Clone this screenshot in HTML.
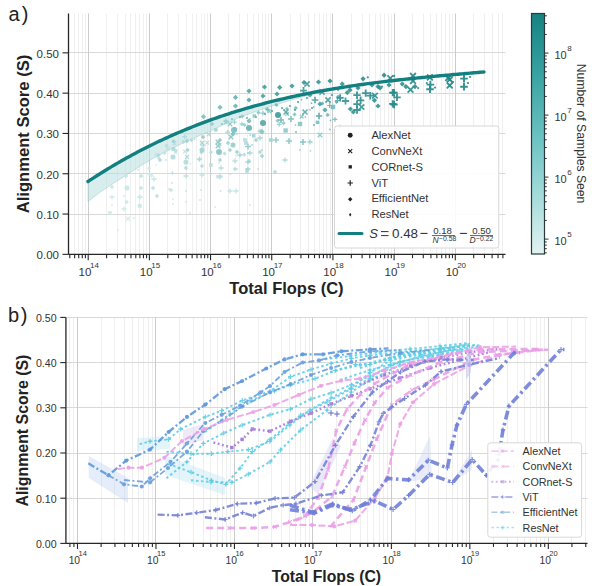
<!DOCTYPE html><html><head><meta charset="utf-8"><style>html,body{margin:0;padding:0;background:#fff;width:592px;height:586px;overflow:hidden;position:relative}</style></head><body><svg width="592" height="586" viewBox="0 0 592 586" style="position:absolute;left:0;top:0">
<rect width="592" height="586" fill="#fff"/>
<line x1="74.50" y1="13.5" x2="74.50" y2="254.35" stroke="#efefef" stroke-width="1"/>
<line x1="78.50" y1="13.5" x2="78.50" y2="254.35" stroke="#efefef" stroke-width="1"/>
<line x1="82.50" y1="13.5" x2="82.50" y2="254.35" stroke="#efefef" stroke-width="1"/>
<line x1="85.50" y1="13.5" x2="85.50" y2="254.35" stroke="#efefef" stroke-width="1"/>
<line x1="106.50" y1="13.5" x2="106.50" y2="254.35" stroke="#efefef" stroke-width="1"/>
<line x1="117.50" y1="13.5" x2="117.50" y2="254.35" stroke="#efefef" stroke-width="1"/>
<line x1="125.50" y1="13.5" x2="125.50" y2="254.35" stroke="#efefef" stroke-width="1"/>
<line x1="130.50" y1="13.5" x2="130.50" y2="254.35" stroke="#efefef" stroke-width="1"/>
<line x1="135.50" y1="13.5" x2="135.50" y2="254.35" stroke="#efefef" stroke-width="1"/>
<line x1="139.50" y1="13.5" x2="139.50" y2="254.35" stroke="#efefef" stroke-width="1"/>
<line x1="143.50" y1="13.5" x2="143.50" y2="254.35" stroke="#efefef" stroke-width="1"/>
<line x1="146.50" y1="13.5" x2="146.50" y2="254.35" stroke="#efefef" stroke-width="1"/>
<line x1="167.50" y1="13.5" x2="167.50" y2="254.35" stroke="#efefef" stroke-width="1"/>
<line x1="178.50" y1="13.5" x2="178.50" y2="254.35" stroke="#efefef" stroke-width="1"/>
<line x1="186.50" y1="13.5" x2="186.50" y2="254.35" stroke="#efefef" stroke-width="1"/>
<line x1="192.50" y1="13.5" x2="192.50" y2="254.35" stroke="#efefef" stroke-width="1"/>
<line x1="196.50" y1="13.5" x2="196.50" y2="254.35" stroke="#efefef" stroke-width="1"/>
<line x1="201.50" y1="13.5" x2="201.50" y2="254.35" stroke="#efefef" stroke-width="1"/>
<line x1="204.50" y1="13.5" x2="204.50" y2="254.35" stroke="#efefef" stroke-width="1"/>
<line x1="207.50" y1="13.5" x2="207.50" y2="254.35" stroke="#efefef" stroke-width="1"/>
<line x1="228.50" y1="13.5" x2="228.50" y2="254.35" stroke="#efefef" stroke-width="1"/>
<line x1="239.50" y1="13.5" x2="239.50" y2="254.35" stroke="#efefef" stroke-width="1"/>
<line x1="247.50" y1="13.5" x2="247.50" y2="254.35" stroke="#efefef" stroke-width="1"/>
<line x1="253.50" y1="13.5" x2="253.50" y2="254.35" stroke="#efefef" stroke-width="1"/>
<line x1="258.50" y1="13.5" x2="258.50" y2="254.35" stroke="#efefef" stroke-width="1"/>
<line x1="262.50" y1="13.5" x2="262.50" y2="254.35" stroke="#efefef" stroke-width="1"/>
<line x1="265.50" y1="13.5" x2="265.50" y2="254.35" stroke="#efefef" stroke-width="1"/>
<line x1="268.50" y1="13.5" x2="268.50" y2="254.35" stroke="#efefef" stroke-width="1"/>
<line x1="290.50" y1="13.5" x2="290.50" y2="254.35" stroke="#efefef" stroke-width="1"/>
<line x1="300.50" y1="13.5" x2="300.50" y2="254.35" stroke="#efefef" stroke-width="1"/>
<line x1="308.50" y1="13.5" x2="308.50" y2="254.35" stroke="#efefef" stroke-width="1"/>
<line x1="314.50" y1="13.5" x2="314.50" y2="254.35" stroke="#efefef" stroke-width="1"/>
<line x1="319.50" y1="13.5" x2="319.50" y2="254.35" stroke="#efefef" stroke-width="1"/>
<line x1="323.50" y1="13.5" x2="323.50" y2="254.35" stroke="#efefef" stroke-width="1"/>
<line x1="326.50" y1="13.5" x2="326.50" y2="254.35" stroke="#efefef" stroke-width="1"/>
<line x1="330.50" y1="13.5" x2="330.50" y2="254.35" stroke="#efefef" stroke-width="1"/>
<line x1="351.50" y1="13.5" x2="351.50" y2="254.35" stroke="#efefef" stroke-width="1"/>
<line x1="362.50" y1="13.5" x2="362.50" y2="254.35" stroke="#efefef" stroke-width="1"/>
<line x1="369.50" y1="13.5" x2="369.50" y2="254.35" stroke="#efefef" stroke-width="1"/>
<line x1="375.50" y1="13.5" x2="375.50" y2="254.35" stroke="#efefef" stroke-width="1"/>
<line x1="380.50" y1="13.5" x2="380.50" y2="254.35" stroke="#efefef" stroke-width="1"/>
<line x1="384.50" y1="13.5" x2="384.50" y2="254.35" stroke="#efefef" stroke-width="1"/>
<line x1="388.50" y1="13.5" x2="388.50" y2="254.35" stroke="#efefef" stroke-width="1"/>
<line x1="391.50" y1="13.5" x2="391.50" y2="254.35" stroke="#efefef" stroke-width="1"/>
<line x1="412.50" y1="13.5" x2="412.50" y2="254.35" stroke="#efefef" stroke-width="1"/>
<line x1="423.50" y1="13.5" x2="423.50" y2="254.35" stroke="#efefef" stroke-width="1"/>
<line x1="430.50" y1="13.5" x2="430.50" y2="254.35" stroke="#efefef" stroke-width="1"/>
<line x1="436.50" y1="13.5" x2="436.50" y2="254.35" stroke="#efefef" stroke-width="1"/>
<line x1="441.50" y1="13.5" x2="441.50" y2="254.35" stroke="#efefef" stroke-width="1"/>
<line x1="445.50" y1="13.5" x2="445.50" y2="254.35" stroke="#efefef" stroke-width="1"/>
<line x1="449.50" y1="13.5" x2="449.50" y2="254.35" stroke="#efefef" stroke-width="1"/>
<line x1="452.50" y1="13.5" x2="452.50" y2="254.35" stroke="#efefef" stroke-width="1"/>
<line x1="473.50" y1="13.5" x2="473.50" y2="254.35" stroke="#efefef" stroke-width="1"/>
<line x1="484.50" y1="13.5" x2="484.50" y2="254.35" stroke="#efefef" stroke-width="1"/>
<line x1="492.50" y1="13.5" x2="492.50" y2="254.35" stroke="#efefef" stroke-width="1"/>
<line x1="498.50" y1="13.5" x2="498.50" y2="254.35" stroke="#efefef" stroke-width="1"/>
<line x1="502.50" y1="13.5" x2="502.50" y2="254.35" stroke="#efefef" stroke-width="1"/>
<line x1="68.5" y1="214.50" x2="505.5" y2="214.50" stroke="#d9d9d9" stroke-width="1"/>
<line x1="68.5" y1="173.50" x2="505.5" y2="173.50" stroke="#d9d9d9" stroke-width="1"/>
<line x1="68.5" y1="133.50" x2="505.5" y2="133.50" stroke="#d9d9d9" stroke-width="1"/>
<line x1="68.5" y1="93.50" x2="505.5" y2="93.50" stroke="#d9d9d9" stroke-width="1"/>
<line x1="68.5" y1="52.50" x2="505.5" y2="52.50" stroke="#d9d9d9" stroke-width="1"/>
<line x1="88.50" y1="13.5" x2="88.50" y2="254.35" stroke="#cbcbcb" stroke-width="1"/>
<line x1="149.50" y1="13.5" x2="149.50" y2="254.35" stroke="#cbcbcb" stroke-width="1"/>
<line x1="210.50" y1="13.5" x2="210.50" y2="254.35" stroke="#cbcbcb" stroke-width="1"/>
<line x1="271.50" y1="13.5" x2="271.50" y2="254.35" stroke="#cbcbcb" stroke-width="1"/>
<line x1="332.50" y1="13.5" x2="332.50" y2="254.35" stroke="#cbcbcb" stroke-width="1"/>
<line x1="394.50" y1="13.5" x2="394.50" y2="254.35" stroke="#cbcbcb" stroke-width="1"/>
<line x1="455.50" y1="13.5" x2="455.50" y2="254.35" stroke="#cbcbcb" stroke-width="1"/>
<polygon points="88.00,181.51 90.00,180.19 92.00,178.88 94.00,177.58 96.00,176.30 98.00,175.02 100.00,173.76 102.00,172.50 104.00,171.26 106.00,170.03 108.00,168.82 110.00,167.61 112.00,166.41 114.00,165.23 116.00,164.05 118.00,162.89 120.00,161.74 122.00,160.60 124.00,159.47 126.00,158.35 128.00,157.24 130.00,156.14 132.00,155.05 134.00,153.97 136.00,152.90 138.00,151.85 140.00,150.80 142.00,149.76 144.00,148.74 146.00,147.72 148.00,146.72 150.00,145.72 152.00,144.73 154.00,143.76 156.00,142.79 158.00,141.83 160.00,140.89 162.00,139.95 164.00,139.02 166.00,138.10 168.00,137.19 170.00,136.29 172.00,135.40 174.00,134.52 176.00,133.65 178.00,132.79 180.00,131.94 182.00,131.09 184.00,130.26 186.00,129.43 188.00,128.61 190.00,127.80 192.00,127.00 194.00,126.21 196.00,125.43 198.00,124.65 200.00,123.89 202.00,123.13 204.00,122.38 206.00,121.64 208.00,120.91 210.00,120.18 212.00,119.47 214.00,118.76 216.00,118.06 218.00,117.36 220.00,116.68 222.00,116.00 224.00,115.33 226.00,114.67 228.00,114.02 230.00,113.37 232.00,112.74 234.00,112.10 236.00,111.48 238.00,110.86 240.00,110.26 242.00,109.65 244.00,109.06 246.00,108.47 248.00,107.89 250.00,107.32 252.00,106.75 254.00,106.19 256.00,105.64 258.00,105.09 260.00,104.55 262.00,104.02 264.00,103.49 266.00,102.97 268.00,102.46 270.00,101.95 272.00,101.45 274.00,100.96 276.00,100.47 278.00,99.99 280.00,99.51 282.00,99.04 284.00,98.58 286.00,98.12 288.00,97.67 290.00,97.22 292.00,96.78 294.00,96.35 296.00,95.92 298.00,95.49 300.00,95.07 302.00,94.66 304.00,94.25 306.00,93.85 308.00,93.45 310.00,93.06 312.00,92.68 314.00,92.29 316.00,91.92 318.00,91.54 320.00,91.18 322.00,90.82 324.00,90.46 326.00,90.11 328.00,89.76 330.00,89.41 332.00,89.07 334.00,88.74 336.00,88.41 338.00,88.08 340.00,87.76 340.00,87.76 338.00,88.21 336.00,88.66 334.00,89.11 332.00,89.57 330.00,90.04 328.00,90.51 326.00,90.98 324.00,91.46 322.00,91.94 320.00,92.43 318.00,92.92 316.00,93.42 314.00,93.92 312.00,94.43 310.00,94.94 308.00,95.45 306.00,95.98 304.00,96.50 302.00,97.04 300.00,97.57 298.00,98.14 296.00,98.72 294.00,99.30 292.00,99.88 290.00,100.47 288.00,101.07 286.00,101.67 284.00,102.28 282.00,102.89 280.00,103.51 278.00,104.14 276.00,104.77 274.00,105.41 272.00,106.05 270.00,106.70 268.00,107.36 266.00,108.02 264.00,108.69 262.00,109.37 260.00,110.05 258.00,110.74 256.00,111.44 254.00,112.14 252.00,112.85 250.00,113.57 248.00,114.29 246.00,115.02 244.00,115.76 242.00,116.50 240.00,117.26 238.00,118.13 236.00,119.01 234.00,119.90 232.00,120.80 230.00,121.71 228.00,122.62 226.00,123.54 224.00,124.47 222.00,125.40 220.00,126.35 218.00,127.30 216.00,128.26 214.00,129.22 212.00,130.20 210.00,131.18 208.00,132.01 206.00,132.84 204.00,133.68 202.00,134.53 200.00,135.39 198.00,136.25 196.00,137.13 194.00,138.01 192.00,138.90 190.00,139.80 188.00,140.71 186.00,141.63 184.00,142.56 182.00,143.49 180.00,144.44 178.00,145.42 176.00,146.42 174.00,147.42 172.00,148.44 170.00,149.46 168.00,150.49 166.00,151.54 164.00,152.59 162.00,153.65 160.00,154.72 158.00,155.80 156.00,156.89 154.00,157.99 152.00,159.10 150.00,160.22 148.00,161.42 146.00,162.62 144.00,163.84 142.00,165.06 140.00,166.30 138.00,167.55 136.00,168.80 134.00,170.07 132.00,171.35 130.00,172.64 128.00,173.94 126.00,175.25 124.00,176.57 122.00,177.90 120.00,179.24 118.00,180.49 116.00,181.75 114.00,183.03 112.00,184.31 110.00,185.61 108.00,186.92 106.00,188.23 104.00,189.56 102.00,190.90 100.00,192.26 98.00,193.77 96.00,195.30 94.00,196.83 92.00,198.38 90.00,199.94 88.00,201.51" fill="#b8dede" fill-opacity="0.55" stroke="#8cc4c4" stroke-opacity="0.6" stroke-width="0.7"/>
<g>
<path d="M149.1,166.3L151.2,168.3L149.1,170.4L147.0,168.3Z" fill="#cde8e8" fill-opacity="0.85"/>
<path d="M151.6,173.6L153.7,175.6L151.6,177.7L149.5,175.6Z" fill="#cde8e8" fill-opacity="0.85"/>
<path d="M149.3,172.1L151.4,174.2L149.3,176.3L147.2,174.2Z" fill="#cde8e8" fill-opacity="0.85"/>
<path d="M154.0,154.9H158.8M156.4,152.5V157.3" stroke="#c0e1e1" stroke-width="1.20" stroke-opacity="0.85"/>
<circle cx="156.3" cy="165.1" r="0.88" fill="#cbe7e7" fill-opacity="0.85"/>
<path d="M158.8,156.0L160.9,158.1L158.8,160.2L156.7,158.1Z" fill="#c4e3e3" fill-opacity="0.85"/>
<path d="M165.8,146.6L169.5,150.3M165.8,150.3L169.5,146.6" stroke="#b9dede" stroke-width="1.12" stroke-opacity="0.85"/>
<path d="M166.5,143.5L168.6,145.6L166.5,147.6L164.4,145.6Z" fill="#b6dcdc" fill-opacity="0.85"/>
<path d="M164.7,151.0L166.8,153.1L164.7,155.2L162.7,153.1Z" fill="#bee0e0" fill-opacity="0.85"/>
<path d="M173.9,150.2L177.5,153.8M173.9,153.8L177.5,150.2" stroke="#bcdfdf" stroke-width="1.12" stroke-opacity="0.85"/>
<path d="M172.7,141.6L176.4,145.3M172.7,145.3L176.4,141.6" stroke="#b3dbdb" stroke-width="1.12" stroke-opacity="0.85"/>
<path d="M175.9,148.5L177.9,150.6L175.9,152.7L173.8,150.6Z" fill="#badede" fill-opacity="0.85"/>
<path d="M183.4,139.7L185.4,141.8L183.4,143.9L181.3,141.8Z" fill="#b0d9d9" fill-opacity="0.85"/>
<path d="M182.2,136.6H187.0M184.6,134.2V139.0" stroke="#aad7d7" stroke-width="1.20" stroke-opacity="0.85"/>
<path d="M183.1,149.6L186.7,153.3M183.1,153.3L186.7,149.6" stroke="#badede" stroke-width="1.12" stroke-opacity="0.85"/>
<circle cx="194.6" cy="139.2" r="0.88" fill="#acd7d7" fill-opacity="0.85"/>
<path d="M191.5,138.1L193.6,140.2L191.5,142.3L189.4,140.2Z" fill="#add8d8" fill-opacity="0.85"/>
<circle cx="190.4" cy="163.6" r="0.88" fill="#c6e4e4" fill-opacity="0.85"/>
<circle cx="201.1" cy="152.7" r="0.88" fill="#b9dede" fill-opacity="0.85"/>
<path d="M201.5,150.6L203.6,152.6L201.5,154.7L199.5,152.6Z" fill="#b9dede" fill-opacity="0.85"/>
<path d="M199.1,157.6L201.2,159.7L199.1,161.8L197.0,159.7Z" fill="#c1e2e2" fill-opacity="0.85"/>
<path d="M200.8,145.7H205.6M203.2,143.3V148.1" stroke="#b2dada" stroke-width="1.20" stroke-opacity="0.85"/>
<path d="M205.4,140.9L209.0,144.6M205.4,144.6L209.0,140.9" stroke="#add8d8" stroke-width="1.12" stroke-opacity="0.85"/>
<circle cx="210.9" cy="156.9" r="0.88" fill="#bcdfdf" fill-opacity="0.85"/>
<path d="M206.7,132.5L210.4,136.2M206.7,136.2L210.4,132.5" stroke="#a4d4d4" stroke-width="1.12" stroke-opacity="0.85"/>
<path d="M211.0,150.1L213.1,152.2L211.0,154.3L208.9,152.2Z" fill="#b7dddd" fill-opacity="0.85"/>
<rect x="217.9" y="143.1" width="3.5" height="3.5" fill="#aed8d8" fill-opacity="0.85"/>
<rect x="214.1" y="128.1" width="3.5" height="3.5" fill="#9ed0d0" fill-opacity="0.85"/>
<circle cx="219.0" cy="163.2" r="0.88" fill="#c1e2e2" fill-opacity="0.85"/>
<rect x="216.0" y="175.0" width="3.5" height="3.5" fill="#cde8e8" fill-opacity="0.85"/>
<path d="M223.5,120.8H228.3M225.9,118.4V123.2" stroke="#92cbcb" stroke-width="1.20" stroke-opacity="0.85"/>
<path d="M223.9,120.8L227.6,124.4M223.9,124.4L227.6,120.8" stroke="#94cccc" stroke-width="1.12" stroke-opacity="0.85"/>
<path d="M224.6,151.5L226.7,153.6L224.6,155.7L222.5,153.6Z" fill="#b5dcdc" fill-opacity="0.85"/>
<path d="M225.3,132.1H230.1M227.7,129.7V134.5" stroke="#9ed1d1" stroke-width="1.20" stroke-opacity="0.85"/>
<path d="M232.1,122.0H236.9M234.5,119.6V124.4" stroke="#91caca" stroke-width="1.20" stroke-opacity="0.85"/>
<circle cx="234.5" cy="122.3" r="0.88" fill="#92cbcb" fill-opacity="0.85"/>
<circle cx="236.9" cy="134.3" r="0.88" fill="#9fd1d1" fill-opacity="0.85"/>
<circle cx="236.0" cy="155.6" r="0.88" fill="#b6dcdc" fill-opacity="0.85"/>
<path d="M244.4,122.8L246.5,124.9L244.4,126.9L242.3,124.9Z" fill="#92cbcb" fill-opacity="0.85"/>
<path d="M241.9,122.0L244.0,124.1L241.9,126.2L239.8,124.1Z" fill="#92cbcb" fill-opacity="0.85"/>
<path d="M244.3,152.5L246.4,154.6L244.3,156.7L242.2,154.6Z" fill="#b3dbdb" fill-opacity="0.85"/>
<path d="M242.3,114.3L244.4,116.3L242.3,118.4L240.2,116.3Z" fill="#89c6c6" fill-opacity="0.85"/>
<circle cx="250.2" cy="134.9" r="0.88" fill="#9bcfcf" fill-opacity="0.85"/>
<rect x="252.5" y="114.3" width="3.5" height="3.5" fill="#87c5c5" fill-opacity="0.85"/>
<rect x="252.0" y="134.0" width="3.5" height="3.5" fill="#9cd0d0" fill-opacity="0.85"/>
<circle cx="249.8" cy="118.8" r="0.88" fill="#8ac7c7" fill-opacity="0.85"/>
<path d="M259.5,131.1H264.3M261.9,128.7V133.5" stroke="#95cccc" stroke-width="1.20" stroke-opacity="0.85"/>
<path d="M257.6,131.2H262.4M260.0,128.8V133.6" stroke="#95cccc" stroke-width="1.20" stroke-opacity="0.85"/>
<path d="M258.5,110.6L260.6,112.7L258.5,114.8L256.4,112.7Z" fill="#81c2c2" fill-opacity="0.85"/>
<path d="M260.5,113.2H265.3M262.9,110.8V115.6" stroke="#81c3c3" stroke-width="1.20" stroke-opacity="0.85"/>
<path d="M267.3,107.3L269.4,109.4L267.3,111.5L265.2,109.4Z" fill="#7bbfbf" fill-opacity="0.85"/>
<path d="M267.5,109.4L271.2,113.0M267.5,113.0L271.2,109.4" stroke="#7dc0c0" stroke-width="1.12" stroke-opacity="0.85"/>
<circle cx="267.0" cy="108.9" r="0.88" fill="#7abfbf" fill-opacity="0.85"/>
<path d="M265.1,109.3H269.9M267.5,106.9V111.7" stroke="#7bbfbf" stroke-width="1.20" stroke-opacity="0.85"/>
<circle cx="275.7" cy="104.3" r="0.88" fill="#72b9b9" fill-opacity="0.85"/>
<path d="M277.4,118.7L279.5,120.7L277.4,122.8L275.3,120.7Z" fill="#84c4c4" fill-opacity="0.85"/>
<path d="M276.8,124.3H281.6M279.2,121.9V126.7" stroke="#88c6c6" stroke-width="1.20" stroke-opacity="0.85"/>
<path d="M276.6,102.9L278.6,105.0L276.6,107.1L274.5,105.0Z" fill="#72baba" fill-opacity="0.85"/>
<circle cx="284.0" cy="109.9" r="0.88" fill="#75bcbc" fill-opacity="0.85"/>
<path d="M285.1,112.1L288.8,115.8M285.1,115.8L288.8,112.1" stroke="#7abfbf" stroke-width="1.12" stroke-opacity="0.85"/>
<path d="M283.6,121.1L285.7,123.1L283.6,125.2L281.5,123.1Z" fill="#84c4c4" fill-opacity="0.85"/>
<path d="M287.0,106.7L289.0,108.8L287.0,110.9L284.9,108.8Z" fill="#74bbbb" fill-opacity="0.85"/>
<path d="M295.8,105.8L297.9,107.9L295.8,110.0L293.7,107.9Z" fill="#70b8b8" fill-opacity="0.85"/>
<circle cx="295.5" cy="124.9" r="0.88" fill="#83c4c4" fill-opacity="0.85"/>
<path d="M294.6,112.3L296.7,114.4L294.6,116.5L292.5,114.4Z" fill="#78bdbd" fill-opacity="0.85"/>
<circle cx="294.7" cy="109.4" r="0.88" fill="#72b9b9" fill-opacity="0.85"/>
<circle cx="303.0" cy="114.7" r="0.88" fill="#75bbbb" fill-opacity="0.85"/>
<circle cx="305.4" cy="117.2" r="0.88" fill="#78bdbd" fill-opacity="0.85"/>
<circle cx="301.5" cy="99.7" r="0.88" fill="#63b0b0" fill-opacity="0.85"/>
<path d="M299.8,114.8L303.5,118.5M299.8,118.5L303.5,114.8" stroke="#77bdbd" stroke-width="1.12" stroke-opacity="0.85"/>
<circle cx="311.5" cy="103.2" r="0.88" fill="#64b0b0" fill-opacity="0.85"/>
<circle cx="310.4" cy="150.8" r="0.88" fill="#9acece" fill-opacity="0.85"/>
<circle cx="310.0" cy="109.8" r="0.88" fill="#6cb6b6" fill-opacity="0.85"/>
<circle cx="313.7" cy="106.9" r="0.88" fill="#68b3b3" fill-opacity="0.85"/>
<path d="M322.3,101.5L324.4,103.6L322.3,105.6L320.2,103.6Z" fill="#60afaf" fill-opacity="0.85"/>
<circle cx="319.9" cy="104.7" r="0.88" fill="#62afaf" fill-opacity="0.85"/>
<circle cx="318.5" cy="122.7" r="0.88" fill="#78bdbd" fill-opacity="0.85"/>
<rect x="315.7" y="120.6" width="3.5" height="3.5" fill="#77bdbd" fill-opacity="0.85"/>
<path d="M327.7,112.8L329.8,114.9L327.7,117.0L325.6,114.9Z" fill="#6bb5b5" fill-opacity="0.85"/>
<circle cx="330.5" cy="120.4" r="0.88" fill="#71b9b9" fill-opacity="0.85"/>
<path d="M327.2,105.5H332.0M329.6,103.1V107.9" stroke="#5faeae" stroke-width="1.20" stroke-opacity="0.85"/>
<circle cx="329.9" cy="129.5" r="0.88" fill="#7cc0c0" fill-opacity="0.85"/>
<path d="M332.5,119.4H337.3M334.9,117.0V121.8" stroke="#6cb6b6" stroke-width="1.20" stroke-opacity="0.85"/>
<path d="M336.5,99.7L338.6,101.8L336.5,103.9L334.4,101.8Z" fill="#57a9a9" fill-opacity="0.85"/>
<path d="M338.1,94.7L340.2,96.8L338.1,98.8L336.0,96.8Z" fill="#51a5a5" fill-opacity="0.85"/>
<path d="M335.1,100.5H339.9M337.5,98.1V102.9" stroke="#55a8a8" stroke-width="1.20" stroke-opacity="0.85"/>
<path d="M112.0,184.8L114.2,187.0L112.0,189.2L109.8,187.0Z" fill="#cbe7e7" fill-opacity="0.9"/>
<path d="M109.5,197.0H114.5M112.0,194.4V199.6" stroke="#cfe8e8" stroke-width="1.27" stroke-opacity="0.9"/>
<circle cx="112.0" cy="205.0" r="0.94" fill="#cfe8e8" fill-opacity="0.9"/>
<rect x="108.1" y="211.1" width="3.7" height="3.7" fill="#d2eaea" fill-opacity="0.9"/>
<path d="M126.0,173.8L128.2,176.0L126.0,178.2L123.8,176.0Z" fill="#c4e3e3" fill-opacity="0.9"/>
<circle cx="127.0" cy="188.0" r="2.55" fill="#c8e5e5" fill-opacity="0.9"/>
<circle cx="124.0" cy="196.0" r="0.94" fill="#cbe7e7" fill-opacity="0.9"/>
<path d="M126.6,199.8L128.8,202.0L126.6,204.2L124.4,202.0Z" fill="#cbe7e7" fill-opacity="0.9"/>
<path d="M126.0,216.6L130.0,220.6M126.0,220.6L130.0,216.6" stroke="#cde8e8" stroke-width="1.19" stroke-opacity="0.9"/>
<path d="M121.5,209.0H126.5M124.0,206.4V211.6" stroke="#cfe8e8" stroke-width="1.27" stroke-opacity="0.9"/>
<path d="M141.0,173.8L143.2,176.0L141.0,178.2L138.8,176.0Z" fill="#c0e1e1" fill-opacity="0.9"/>
<path d="M141.0,185.8L143.2,188.0L141.0,190.2L138.8,188.0Z" fill="#c4e3e3" fill-opacity="0.9"/>
<path d="M137.4,197.0H142.6M140.0,194.4V199.6" stroke="#c4e3e3" stroke-width="1.27" stroke-opacity="0.9"/>
<circle cx="139.7" cy="205.7" r="2.21" fill="#c8e5e5" fill-opacity="0.9"/>
<circle cx="138.0" cy="170.0" r="0.94" fill="#cbe7e7" fill-opacity="0.9"/>
<path d="M158.4,153.1L160.6,155.3L158.4,157.5L156.2,155.3Z" fill="#aed9d9" fill-opacity="0.9"/>
<path d="M160.0,157.8L162.2,160.0L160.0,162.2L157.8,160.0Z" fill="#b2dada" fill-opacity="0.9"/>
<circle cx="166.0" cy="160.0" r="0.94" fill="#c0e1e1" fill-opacity="0.9"/>
<path d="M172.5,170.8L173.8,173.0L172.5,175.2L171.2,173.0Z" fill="#bbdfdf" fill-opacity="0.9"/>
<path d="M151.4,179.0H156.6M154.0,176.4V181.6" stroke="#c4e3e3" stroke-width="1.27" stroke-opacity="0.9"/>
<path d="M153.0,185.8L155.2,188.0L153.0,190.2L150.8,188.0Z" fill="#bbdfdf" fill-opacity="0.9"/>
<path d="M157.0,193.8L159.2,196.0L157.0,198.2L154.8,196.0Z" fill="#bde0e0" fill-opacity="0.9"/>
<circle cx="169.0" cy="189.0" r="0.94" fill="#c9e6e6" fill-opacity="0.9"/>
<circle cx="173.0" cy="199.0" r="0.94" fill="#cbe7e7" fill-opacity="0.9"/>
<circle cx="173.0" cy="204.0" r="0.94" fill="#cbe7e7" fill-opacity="0.9"/>
<path d="M171.0,187.8L173.2,190.0L171.0,192.2L168.8,190.0Z" fill="#c4e3e3" fill-opacity="0.9"/>
<circle cx="134.0" cy="218.0" r="0.94" fill="#cfe8e8" fill-opacity="0.9"/>
<circle cx="118.0" cy="230.0" r="0.94" fill="#d1e9e9" fill-opacity="0.9"/>
<path d="M173.5,139.2L175.7,141.4L173.5,143.6L171.3,141.4Z" fill="#9cd0d0" fill-opacity="0.9"/>
<rect x="171.6" y="147.1" width="3.7" height="3.7" fill="#a9d6d6" fill-opacity="0.9"/>
<circle cx="173.0" cy="157.0" r="2.55" fill="#b2dada" fill-opacity="0.9"/>
<circle cx="172.0" cy="183.0" r="0.94" fill="#c4e3e3" fill-opacity="0.9"/>
<path d="M187.0,138.8L189.2,141.0L187.0,143.2L184.8,141.0Z" fill="#9cd0d0" fill-opacity="0.9"/>
<path d="M187.6,147.8L189.8,150.0L187.6,152.2L185.4,150.0Z" fill="#a4d3d3" fill-opacity="0.9"/>
<path d="M185.0,155.0L189.0,159.0M185.0,159.0L189.0,155.0" stroke="#a9d6d6" stroke-width="1.19" stroke-opacity="0.9"/>
<circle cx="186.0" cy="162.0" r="2.55" fill="#b2dada" fill-opacity="0.9"/>
<path d="M186.0,165.8L188.2,168.0L186.0,170.2L183.8,168.0Z" fill="#b2dada" fill-opacity="0.9"/>
<path d="M183.4,176.0H188.6M186.0,173.4V178.6" stroke="#b9dede" stroke-width="1.27" stroke-opacity="0.9"/>
<circle cx="186.0" cy="191.0" r="0.94" fill="#c4e3e3" fill-opacity="0.9"/>
<circle cx="186.0" cy="202.0" r="0.94" fill="#c8e5e5" fill-opacity="0.9"/>
<path d="M203.0,134.8L205.2,137.0L203.0,139.2L200.8,137.0Z" fill="#95cccc" fill-opacity="0.9"/>
<path d="M200.0,141.0L204.0,145.0M200.0,145.0L204.0,141.0" stroke="#9cd0d0" stroke-width="1.19" stroke-opacity="0.9"/>
<circle cx="202.0" cy="150.0" r="2.55" fill="#a0d2d2" fill-opacity="0.9"/>
<path d="M197.0,159.0H202.2M199.6,156.4V161.6" stroke="#aed9d9" stroke-width="1.27" stroke-opacity="0.9"/>
<circle cx="201.0" cy="190.0" r="0.94" fill="#c4e3e3" fill-opacity="0.9"/>
<circle cx="200.0" cy="200.0" r="0.94" fill="#c8e5e5" fill-opacity="0.9"/>
<path d="M202.0,163.8L204.2,166.0L202.0,168.2L199.8,166.0Z" fill="#b9dede" fill-opacity="0.9"/>
<path d="M199.4,175.0H204.6M202.0,172.4V177.6" stroke="#bfe1e1" stroke-width="1.27" stroke-opacity="0.9"/>
<rect x="209.1" y="163.1" width="3.7" height="3.7" fill="#bde0e0" fill-opacity="0.9"/>
<circle cx="211.0" cy="174.0" r="0.94" fill="#c0e1e1" fill-opacity="0.9"/>
<path d="M220.0,137.8L222.2,140.0L220.0,142.2L217.8,140.0Z" fill="#97cdcd" fill-opacity="0.9"/>
<path d="M219.0,149.8L221.2,152.0L219.0,154.2L216.8,152.0Z" fill="#a0d2d2" fill-opacity="0.9"/>
<path d="M220.0,157.8L222.2,160.0L220.0,162.2L217.8,160.0Z" fill="#a9d6d6" fill-opacity="0.9"/>
<path d="M217.4,176.0H222.6M220.0,173.4V178.6" stroke="#bbdfdf" stroke-width="1.27" stroke-opacity="0.9"/>
<circle cx="220.5" cy="191.0" r="0.94" fill="#c4e3e3" fill-opacity="0.9"/>
<path d="M230.0,147.8L232.2,150.0L230.0,152.2L227.8,150.0Z" fill="#a4d3d3" fill-opacity="0.9"/>
<path d="M237.0,149.8L239.2,152.0L237.0,154.2L234.8,152.0Z" fill="#a0d2d2" fill-opacity="0.9"/>
<path d="M235.0,166.8L237.2,169.0L235.0,171.2L232.8,169.0Z" fill="#b2dada" fill-opacity="0.9"/>
<path d="M227.4,191.0H232.6M230.0,188.4V193.6" stroke="#bfe1e1" stroke-width="1.27" stroke-opacity="0.9"/>
<circle cx="230.0" cy="174.0" r="0.94" fill="#bbdfdf" fill-opacity="0.9"/>
<path d="M249.0,158.8L251.2,161.0L249.0,163.2L246.8,161.0Z" fill="#aed9d9" fill-opacity="0.9"/>
<path d="M247.4,153.0H252.6M250.0,150.4V155.6" stroke="#a9d6d6" stroke-width="1.27" stroke-opacity="0.9"/>
<circle cx="258.0" cy="169.0" r="0.94" fill="#b9dede" fill-opacity="0.9"/>
<path d="M260.0,149.8L262.2,152.0L260.0,154.2L257.8,152.0Z" fill="#aed9d9" fill-opacity="0.9"/>
<path d="M257.4,138.0H262.6M260.0,135.4V140.6" stroke="#a0d2d2" stroke-width="1.27" stroke-opacity="0.9"/>
<rect x="243.1" y="138.1" width="3.7" height="3.7" fill="#b6dcdc" fill-opacity="0.9"/>
<path d="M247.0,169.8L249.2,172.0L247.0,174.2L244.8,172.0Z" fill="#bbdfdf" fill-opacity="0.9"/>
<path d="M233.4,191.0H238.6M236.0,188.4V193.6" stroke="#c0e1e1" stroke-width="1.27" stroke-opacity="0.9"/>
<circle cx="250.0" cy="205.0" r="0.94" fill="#c8e5e5" fill-opacity="0.9"/>
<circle cx="215.0" cy="207.0" r="0.94" fill="#cbe7e7" fill-opacity="0.9"/>
<circle cx="190.0" cy="213.0" r="0.94" fill="#c9e6e6" fill-opacity="0.9"/>
<path d="M203.5,114.1L206.1,116.7L203.5,119.3L200.9,116.7Z" fill="#7cc0c0" fill-opacity="0.9"/>
<path d="M220.0,104.7L222.6,107.3L220.0,109.9L217.4,107.3Z" fill="#72baba" fill-opacity="0.9"/>
<path d="M235.5,94.8L238.1,97.4L235.5,100.0L232.9,97.4Z" fill="#64b1b1" fill-opacity="0.9"/>
<path d="M235.5,103.4L238.1,106.0L235.5,108.6L232.9,106.0Z" fill="#68b3b3" fill-opacity="0.9"/>
<path d="M249.0,88.4L251.6,91.0L249.0,93.6L246.4,91.0Z" fill="#54a6a6" fill-opacity="0.9"/>
<path d="M249.0,97.4L251.6,100.0L249.0,102.6L246.4,100.0Z" fill="#58a9a9" fill-opacity="0.9"/>
<path d="M264.5,84.4L267.1,87.0L264.5,89.6L261.9,87.0Z" fill="#439c9c" fill-opacity="0.9"/>
<path d="M263.0,93.4L265.6,96.0L263.0,98.6L260.4,96.0Z" fill="#4aa0a0" fill-opacity="0.9"/>
<path d="M279.7,84.8L282.3,87.4L279.7,90.0L277.1,87.4Z" fill="#3f9a9a" fill-opacity="0.9"/>
<path d="M277.0,91.4L279.6,94.0L277.0,96.6L274.4,94.0Z" fill="#439c9c" fill-opacity="0.9"/>
<path d="M292.0,83.4L294.6,86.0L292.0,88.6L289.4,86.0Z" fill="#3b9797" fill-opacity="0.9"/>
<path d="M304.0,79.9L306.6,82.5L304.0,85.1L301.4,82.5Z" fill="#359393" fill-opacity="0.9"/>
<path d="M304.4,81.4L309.6,86.6M304.4,86.6L309.6,81.4" stroke="#3f9a9a" stroke-width="1.61" stroke-opacity="0.9"/>
<path d="M318.5,79.4L321.1,82.0L318.5,84.6L315.9,82.0Z" fill="#359393" fill-opacity="0.9"/>
<path d="M330.0,78.4L332.6,81.0L330.0,83.6L327.4,81.0Z" fill="#319191" fill-opacity="0.9"/>
<path d="M212.0,121.8L214.2,124.0L212.0,126.2L209.8,124.0Z" fill="#97cdcd" fill-opacity="0.9"/>
<path d="M227.7,121.7L232.3,126.3M227.7,126.3L232.3,121.7" stroke="#8ec9c9" stroke-width="1.40" stroke-opacity="0.9"/>
<circle cx="234.0" cy="130.0" r="3.00" fill="#7cc0c0" fill-opacity="0.9"/>
<circle cx="233.0" cy="145.0" r="2.55" fill="#97cdcd" fill-opacity="0.9"/>
<circle cx="249.0" cy="128.0" r="3.00" fill="#68b3b3" fill-opacity="0.9"/>
<path d="M249.0,118.4L251.6,121.0L249.0,123.6L246.4,121.0Z" fill="#72baba" fill-opacity="0.9"/>
<circle cx="263.0" cy="123.0" r="3.00" fill="#54a6a6" fill-opacity="0.9"/>
<circle cx="278.0" cy="115.0" r="3.00" fill="#3f9a9a" fill-opacity="0.9"/>
<path d="M278.0,120.0H284.0M281.0,117.0V123.0" stroke="#68b3b3" stroke-width="1.50" stroke-opacity="0.9"/>
<path d="M288.0,119.0H294.0M291.0,116.0V122.0" stroke="#72baba" stroke-width="1.50" stroke-opacity="0.9"/>
<rect x="297.8" y="121.8" width="4.4" height="4.4" fill="#85c4c4" fill-opacity="0.9"/>
<rect x="283.4" y="128.3" width="4.4" height="4.4" fill="#8ec9c9" fill-opacity="0.9"/>
<rect x="269.1" y="138.1" width="3.7" height="3.7" fill="#a0d2d2" fill-opacity="0.9"/>
<path d="M273.0,140.0H279.0M276.0,137.0V143.0" stroke="#8ec9c9" stroke-width="1.50" stroke-opacity="0.9"/>
<path d="M286.0,141.0H292.0M289.0,138.0V144.0" stroke="#85c4c4" stroke-width="1.50" stroke-opacity="0.9"/>
<path d="M300.0,142.0H306.0M303.0,139.0V145.0" stroke="#7cc0c0" stroke-width="1.50" stroke-opacity="0.9"/>
<path d="M256.0,137.8L258.2,140.0L256.0,142.2L253.8,140.0Z" fill="#a0d2d2" fill-opacity="0.9"/>
<circle cx="252.0" cy="145.0" r="0.94" fill="#a0d2d2" fill-opacity="0.9"/>
<path d="M228.0,140.8L230.2,143.0L228.0,145.2L225.8,143.0Z" fill="#a0d2d2" fill-opacity="0.9"/>
<circle cx="262.0" cy="150.0" r="0.94" fill="#a0d2d2" fill-opacity="0.9"/>
<path d="M300.1,90.6H306.9M303.5,87.1V94.0" stroke="#3f9a9a" stroke-width="1.72" stroke-opacity="0.9"/>
<path d="M310.0,92.4L312.6,95.0L310.0,97.6L307.4,95.0Z" fill="#439c9c" fill-opacity="0.9"/>
<path d="M311.7,100.0H318.3M315.0,96.7V103.3" stroke="#4aa0a0" stroke-width="1.67" stroke-opacity="0.9"/>
<path d="M320.0,101.4L322.6,104.0L320.0,106.6L317.4,104.0Z" fill="#4aa0a0" fill-opacity="0.9"/>
<path d="M325.0,107.4L327.6,110.0L325.0,112.6L322.4,110.0Z" fill="#50a4a4" fill-opacity="0.9"/>
<path d="M315.8,116.0H322.2M319.0,112.8V119.2" stroke="#54a6a6" stroke-width="1.61" stroke-opacity="0.9"/>
<path d="M302.5,109.5L307.5,114.5M302.5,114.5L307.5,109.5" stroke="#54a6a6" stroke-width="1.50" stroke-opacity="0.9"/>
<rect x="330.8" y="104.8" width="4.4" height="4.4" fill="#72baba" fill-opacity="0.9"/>
<path d="M319.4,89.4L324.6,94.6M319.4,94.6L324.6,89.4" stroke="#3f9a9a" stroke-width="1.61" stroke-opacity="0.9"/>
<circle cx="332.0" cy="95.0" r="1.10" fill="#3f9a9a" fill-opacity="0.9"/>
<circle cx="240.0" cy="117.0" r="1.10" fill="#68b3b3" fill-opacity="0.9"/>
<circle cx="247.0" cy="118.0" r="1.10" fill="#68b3b3" fill-opacity="0.9"/>
<circle cx="256.0" cy="117.0" r="1.10" fill="#5eadad" fill-opacity="0.9"/>
<circle cx="265.0" cy="114.0" r="1.10" fill="#54a6a6" fill-opacity="0.9"/>
<circle cx="272.0" cy="111.0" r="1.10" fill="#54a6a6" fill-opacity="0.9"/>
<circle cx="282.0" cy="108.0" r="1.10" fill="#4aa0a0" fill-opacity="0.9"/>
<circle cx="290.0" cy="106.0" r="1.10" fill="#4aa0a0" fill-opacity="0.9"/>
<circle cx="298.0" cy="102.0" r="1.10" fill="#439c9c" fill-opacity="0.9"/>
<circle cx="307.0" cy="98.0" r="1.10" fill="#3f9a9a" fill-opacity="0.9"/>
<circle cx="232.0" cy="119.0" r="1.10" fill="#7cc0c0" fill-opacity="0.9"/>
<circle cx="222.0" cy="124.0" r="1.10" fill="#85c4c4" fill-opacity="0.9"/>
<path d="M283.5,109.5L288.5,114.5M283.5,114.5L288.5,109.5" stroke="#54a6a6" stroke-width="1.50" stroke-opacity="0.9"/>
<circle cx="295.0" cy="110.0" r="1.10" fill="#4aa0a0" fill-opacity="0.9"/>
<circle cx="312.0" cy="108.0" r="1.10" fill="#4aa0a0" fill-opacity="0.9"/>
<path d="M325.4,97.4L330.6,102.6M325.4,102.6L330.6,97.4" stroke="#439c9c" stroke-width="1.59" stroke-opacity="0.9"/>
<circle cx="338.0" cy="90.0" r="1.10" fill="#3b9797" fill-opacity="0.9"/>
<circle cx="314.0" cy="125.0" r="1.10" fill="#68b3b3" fill-opacity="0.9"/>
<circle cx="296.0" cy="132.0" r="1.10" fill="#7cc0c0" fill-opacity="0.9"/>
<path d="M233.0,131.4L235.6,134.0L233.0,136.6L230.4,134.0Z" fill="#7cc0c0" fill-opacity="0.9"/>
<path d="M228.7,134.7L233.3,139.3M228.7,139.3L233.3,134.7" stroke="#85c4c4" stroke-width="1.40" stroke-opacity="0.9"/>
<path d="M215.7,139.7L220.3,144.3M215.7,144.3L220.3,139.7" stroke="#85c4c4" stroke-width="1.40" stroke-opacity="0.9"/>
<path d="M215.7,143.7L220.3,148.3M215.7,148.3L220.3,143.7" stroke="#8ec9c9" stroke-width="1.40" stroke-opacity="0.9"/>
<circle cx="219.0" cy="152.0" r="3.00" fill="#85c4c4" fill-opacity="0.9"/>
<rect x="244.1" y="141.1" width="3.7" height="3.7" fill="#b2dada" fill-opacity="0.9"/>
<path d="M237.4,155.0H242.6M240.0,152.4V157.6" stroke="#a0d2d2" stroke-width="1.27" stroke-opacity="0.9"/>
<path d="M232.4,161.0H237.6M235.0,158.4V163.6" stroke="#b2dada" stroke-width="1.27" stroke-opacity="0.9"/>
<path d="M218.4,168.0H223.6M221.0,165.4V170.6" stroke="#b2dada" stroke-width="1.27" stroke-opacity="0.9"/>
<circle cx="237.0" cy="169.0" r="0.94" fill="#bbdfdf" fill-opacity="0.9"/>
<path d="M247.0,167.8L249.2,170.0L247.0,172.2L244.8,170.0Z" fill="#b6dcdc" fill-opacity="0.9"/>
<path d="M217.4,177.0H222.6M220.0,174.4V179.6" stroke="#bbdfdf" stroke-width="1.27" stroke-opacity="0.9"/>
<path d="M235.0,126.4L237.6,129.0L235.0,131.6L232.4,129.0Z" fill="#7cc0c0" fill-opacity="0.9"/>
<path d="M245.0,146.5H251.0M248.0,143.5V149.5" stroke="#8ec9c9" stroke-width="1.50" stroke-opacity="0.9"/>
<circle cx="248.0" cy="153.0" r="0.94" fill="#97cdcd" fill-opacity="0.9"/>
<path d="M245.4,162.0H250.6M248.0,159.4V164.6" stroke="#a0d2d2" stroke-width="1.27" stroke-opacity="0.9"/>
<path d="M245.4,169.0H250.6M248.0,166.4V171.6" stroke="#a4d3d3" stroke-width="1.27" stroke-opacity="0.9"/>
<path d="M262.0,129.4L264.6,132.0L262.0,134.6L259.4,132.0Z" fill="#85c4c4" fill-opacity="0.9"/>
<path d="M262.0,153.8L264.2,156.0L262.0,158.2L259.8,156.0Z" fill="#a0d2d2" fill-opacity="0.9"/>
<circle cx="300.0" cy="150.0" r="0.94" fill="#a0d2d2" fill-opacity="0.9"/>
<path d="M282.4,160.0H287.6M285.0,157.4V162.6" stroke="#a9d6d6" stroke-width="1.27" stroke-opacity="0.9"/>
<path d="M275.0,169.8L277.2,172.0L275.0,174.2L272.8,172.0Z" fill="#b2dada" fill-opacity="0.9"/>
<path d="M307.4,142.0H312.6M310.0,139.4V144.6" stroke="#97cdcd" stroke-width="1.27" stroke-opacity="0.9"/>
<path d="M317.7,132.7L322.3,137.3M317.7,137.3L322.3,132.7" stroke="#8ec9c9" stroke-width="1.40" stroke-opacity="0.9"/>
<path d="M342.2,81.3L344.8,83.9L342.2,86.5L339.6,83.9Z" fill="#359393" fill-opacity="0.9"/>
<path d="M363.1,76.2L365.7,78.8L363.1,81.4L360.5,78.8Z" fill="#2b8d8d" fill-opacity="0.9"/>
<circle cx="367.8" cy="77.3" r="1.10" fill="#2b8d8d" fill-opacity="0.9"/>
<path d="M384.1,72.6L386.7,75.2L384.1,77.8L381.5,75.2Z" fill="#278a8a" fill-opacity="0.9"/>
<path d="M387.4,75.4L393.2,81.2M387.4,81.2L393.2,75.4" stroke="#278a8a" stroke-width="1.74" stroke-opacity="0.9"/>
<path d="M350.0,87.4L352.6,90.0L350.0,92.6L347.4,90.0Z" fill="#2f8f8f" fill-opacity="0.9"/>
<path d="M358.0,85.4L360.6,88.0L358.0,90.6L355.4,88.0Z" fill="#2f8f8f" fill-opacity="0.9"/>
<path d="M372.0,82.4L374.6,85.0L372.0,87.6L369.4,85.0Z" fill="#2b8d8d" fill-opacity="0.9"/>
<path d="M380.0,85.4L382.6,88.0L380.0,90.6L377.4,88.0Z" fill="#2b8d8d" fill-opacity="0.9"/>
<path d="M389.0,82.4L391.6,85.0L389.0,87.6L386.4,85.0Z" fill="#2b8d8d" fill-opacity="0.9"/>
<path d="M336.5,97.8H343.7M340.1,94.2V101.4" stroke="#2f8f8f" stroke-width="1.81" stroke-opacity="0.9"/>
<path d="M341.9,101.0H349.1M345.5,97.4V104.6" stroke="#359393" stroke-width="1.78" stroke-opacity="0.9"/>
<path d="M347.3,90.0L349.9,92.6L347.3,95.2L344.7,92.6Z" fill="#359393" fill-opacity="0.9"/>
<path d="M353.3,95.2H360.7M357.0,91.5V98.9" stroke="#2b8d8d" stroke-width="1.84" stroke-opacity="0.9"/>
<path d="M356.9,100.3H364.3M360.6,96.6V104.0" stroke="#2b8d8d" stroke-width="1.84" stroke-opacity="0.9"/>
<path d="M353.3,104.2H360.7M357.0,100.5V107.9" stroke="#2b8d8d" stroke-width="1.84" stroke-opacity="0.9"/>
<path d="M353.3,110.0H360.7M357.0,106.3V113.7" stroke="#2b8d8d" stroke-width="1.84" stroke-opacity="0.9"/>
<path d="M350.4,106.4L353.0,109.0L350.4,111.6L347.8,109.0Z" fill="#359393" fill-opacity="0.9"/>
<path d="M353.4,109.4L356.0,112.0L353.4,114.6L350.8,112.0Z" fill="#359393" fill-opacity="0.9"/>
<path d="M358.9,104.3L364.3,109.7M358.9,109.7L364.3,104.3" stroke="#359393" stroke-width="1.66" stroke-opacity="0.9"/>
<path d="M362.0,93.1H369.4M365.7,89.4V96.8" stroke="#2b8d8d" stroke-width="1.84" stroke-opacity="0.9"/>
<path d="M366.6,95.7H374.0M370.3,92.0V99.4" stroke="#2b8d8d" stroke-width="1.84" stroke-opacity="0.9"/>
<path d="M372.1,92.9L377.7,98.5M372.1,98.5L377.7,92.9" stroke="#2b8d8d" stroke-width="1.72" stroke-opacity="0.9"/>
<path d="M374.4,97.7L377.0,100.3L374.4,102.9L371.8,100.3Z" fill="#2f8f8f" fill-opacity="0.9"/>
<path d="M378.0,103.4L380.6,106.0L378.0,108.6L375.4,106.0Z" fill="#359393" fill-opacity="0.9"/>
<path d="M378.0,83.9L380.6,86.5L378.0,89.1L375.4,86.5Z" fill="#2b8d8d" fill-opacity="0.9"/>
<circle cx="382.1" cy="86.5" r="1.10" fill="#2b8d8d" fill-opacity="0.9"/>
<path d="M389.1,92.6H396.5M392.8,88.9V96.3" stroke="#278a8a" stroke-width="1.86" stroke-opacity="0.9"/>
<path d="M389.1,103.9H396.5M392.8,100.2V107.6" stroke="#278a8a" stroke-width="1.86" stroke-opacity="0.9"/>
<circle cx="394.1" cy="75.9" r="1.10" fill="#278a8a" fill-opacity="0.9"/>
<path d="M390.3,92.8H397.7M394.0,89.1V96.5" stroke="#278a8a" stroke-width="1.86" stroke-opacity="0.9"/>
<path d="M393.3,97.4H400.7M397.0,93.7V101.1" stroke="#278a8a" stroke-width="1.86" stroke-opacity="0.9"/>
<path d="M390.3,104.5H397.7M394.0,100.8V108.2" stroke="#278a8a" stroke-width="1.86" stroke-opacity="0.9"/>
<path d="M402.3,81.4L404.9,84.0L402.3,86.6L399.7,84.0Z" fill="#2b8d8d" fill-opacity="0.9"/>
<path d="M405.9,84.0L408.5,86.6L405.9,89.2L403.3,86.6Z" fill="#2b8d8d" fill-opacity="0.9"/>
<path d="M410.1,73.0L415.9,78.8M410.1,78.8L415.9,73.0" stroke="#218686" stroke-width="1.77" stroke-opacity="0.9"/>
<path d="M410.1,78.1L415.9,83.9M410.1,83.9L415.9,78.1" stroke="#218686" stroke-width="1.77" stroke-opacity="0.9"/>
<path d="M407.6,86.8L413.4,92.6M407.6,92.6L413.4,86.8" stroke="#278a8a" stroke-width="1.74" stroke-opacity="0.9"/>
<path d="M415.0,84.0L417.6,86.6L415.0,89.2L412.4,86.6Z" fill="#278a8a" fill-opacity="0.9"/>
<circle cx="418.1" cy="88.1" r="1.10" fill="#2b8d8d" fill-opacity="0.9"/>
<path d="M427.0,74.5L432.8,80.3M427.0,80.3L432.8,74.5" stroke="#218686" stroke-width="1.77" stroke-opacity="0.9"/>
<path d="M426.6,84.6H434.2M430.4,80.8V88.4" stroke="#218686" stroke-width="1.89" stroke-opacity="0.9"/>
<path d="M426.2,89.2H433.8M430.0,85.4V93.0" stroke="#218686" stroke-width="1.89" stroke-opacity="0.9"/>
<circle cx="435.0" cy="87.6" r="1.10" fill="#278a8a" fill-opacity="0.9"/>
<circle cx="426.8" cy="83.0" r="1.10" fill="#278a8a" fill-opacity="0.9"/>
<path d="M445.4,75.0L451.2,80.8M445.4,80.8L451.2,75.0" stroke="#1d8484" stroke-width="1.79" stroke-opacity="0.9"/>
<path d="M446.8,76.6L452.6,82.4M446.8,82.4L452.6,76.6" stroke="#1d8484" stroke-width="1.79" stroke-opacity="0.9"/>
<path d="M446.8,82.5L452.6,88.3M446.8,88.3L452.6,82.5" stroke="#1d8484" stroke-width="1.79" stroke-opacity="0.9"/>
<circle cx="453.0" cy="82.0" r="1.10" fill="#218686" fill-opacity="0.9"/>
<path d="M460.2,78.6H467.8M464.0,74.8V82.4" stroke="#1d8484" stroke-width="1.92" stroke-opacity="0.9"/>
<path d="M460.2,86.7H467.8M464.0,82.9V90.5" stroke="#1d8484" stroke-width="1.92" stroke-opacity="0.9"/>
<circle cx="468.0" cy="83.0" r="1.10" fill="#218686" fill-opacity="0.9"/>
<circle cx="470.0" cy="77.0" r="1.10" fill="#218686" fill-opacity="0.9"/>
<path d="M337.4,127.0H342.6M340.0,124.5V129.6" stroke="#b2dada" stroke-width="1.27" stroke-opacity="0.9"/>
</g>
<polyline points="88.00,181.51 90.00,180.19 92.00,178.88 94.00,177.58 96.00,176.30 98.00,175.02 100.00,173.76 102.00,172.50 104.00,171.26 106.00,170.03 108.00,168.82 110.00,167.61 112.00,166.41 114.00,165.23 116.00,164.05 118.00,162.89 120.00,161.74 122.00,160.60 124.00,159.47 126.00,158.35 128.00,157.24 130.00,156.14 132.00,155.05 134.00,153.97 136.00,152.90 138.00,151.85 140.00,150.80 142.00,149.76 144.00,148.74 146.00,147.72 148.00,146.72 150.00,145.72 152.00,144.73 154.00,143.76 156.00,142.79 158.00,141.83 160.00,140.89 162.00,139.95 164.00,139.02 166.00,138.10 168.00,137.19 170.00,136.29 172.00,135.40 174.00,134.52 176.00,133.65 178.00,132.79 180.00,131.94 182.00,131.09 184.00,130.26 186.00,129.43 188.00,128.61 190.00,127.80 192.00,127.00 194.00,126.21 196.00,125.43 198.00,124.65 200.00,123.89 202.00,123.13 204.00,122.38 206.00,121.64 208.00,120.91 210.00,120.18 212.00,119.47 214.00,118.76 216.00,118.06 218.00,117.36 220.00,116.68 222.00,116.00 224.00,115.33 226.00,114.67 228.00,114.02 230.00,113.37 232.00,112.74 234.00,112.10 236.00,111.48 238.00,110.86 240.00,110.26 242.00,109.65 244.00,109.06 246.00,108.47 248.00,107.89 250.00,107.32 252.00,106.75 254.00,106.19 256.00,105.64 258.00,105.09 260.00,104.55 262.00,104.02 264.00,103.49 266.00,102.97 268.00,102.46 270.00,101.95 272.00,101.45 274.00,100.96 276.00,100.47 278.00,99.99 280.00,99.51 282.00,99.04 284.00,98.58 286.00,98.12 288.00,97.67 290.00,97.22 292.00,96.78 294.00,96.35 296.00,95.92 298.00,95.49 300.00,95.07 302.00,94.66 304.00,94.25 306.00,93.85 308.00,93.45 310.00,93.06 312.00,92.68 314.00,92.29 316.00,91.92 318.00,91.54 320.00,91.18 322.00,90.82 324.00,90.46 326.00,90.11 328.00,89.76 330.00,89.41 332.00,89.07 334.00,88.74 336.00,88.41 338.00,88.08 340.00,87.76 342.00,87.45 344.00,87.13 346.00,86.82 348.00,86.52 350.00,86.22 352.00,85.92 354.00,85.63 356.00,85.34 358.00,85.05 360.00,84.77 362.00,84.49 364.00,84.22 366.00,83.94 368.00,83.68 370.00,83.41 372.00,83.15 374.00,82.89 376.00,82.64 378.00,82.39 380.00,82.14 382.00,81.89 384.00,81.65 386.00,81.41 388.00,81.17 390.00,80.94 392.00,80.71 394.00,80.48 396.00,80.25 398.00,80.03 400.00,79.81 402.00,79.59 404.00,79.37 406.00,79.16 408.00,78.94 410.00,78.73 412.00,78.53 414.00,78.32 416.00,78.12 418.00,77.92 420.00,77.72 422.00,77.52 424.00,77.32 426.00,77.13 428.00,76.93 430.00,76.74 432.00,76.55 434.00,76.36 436.00,76.18 438.00,75.99 440.00,75.81 442.00,75.62 444.00,75.44 446.00,75.26 448.00,75.08 450.00,74.90 452.00,74.72 454.00,74.55 456.00,74.37 458.00,74.20 460.00,74.02 462.00,73.85 464.00,73.67 466.00,73.50 468.00,73.33 470.00,73.15 472.00,72.98 474.00,72.81 476.00,72.64 478.00,72.47 480.00,72.29 482.00,72.12 484.00,71.95" fill="none" stroke="#128080" stroke-width="3.4" stroke-linecap="round"/>
<line x1="68.5" y1="13.5" x2="68.5" y2="254.35" stroke="#262626" stroke-width="1.3"/>
<line x1="68.5" y1="254.35" x2="505.5" y2="254.35" stroke="#262626" stroke-width="1.3"/>
<line x1="69.78" y1="254.35" x2="69.78" y2="258.15" stroke="#262626" stroke-width="1.1"/>
<line x1="74.63" y1="254.35" x2="74.63" y2="258.15" stroke="#262626" stroke-width="1.1"/>
<line x1="78.72" y1="254.35" x2="78.72" y2="258.15" stroke="#262626" stroke-width="1.1"/>
<line x1="82.27" y1="254.35" x2="82.27" y2="258.15" stroke="#262626" stroke-width="1.1"/>
<line x1="85.40" y1="254.35" x2="85.40" y2="258.15" stroke="#262626" stroke-width="1.1"/>
<line x1="88.20" y1="254.35" x2="88.20" y2="260.35" stroke="#262626" stroke-width="1.1"/>
<text x="91.40" y="275.65" font-size="11.5" fill="#333" text-anchor="end" font-family="Liberation Sans, sans-serif">10</text>
<text x="90.10" y="267.65" font-size="8" fill="#333" font-family="Liberation Sans, sans-serif">14</text>
<line x1="106.62" y1="254.35" x2="106.62" y2="258.15" stroke="#262626" stroke-width="1.1"/>
<line x1="117.39" y1="254.35" x2="117.39" y2="258.15" stroke="#262626" stroke-width="1.1"/>
<line x1="125.03" y1="254.35" x2="125.03" y2="258.15" stroke="#262626" stroke-width="1.1"/>
<line x1="130.96" y1="254.35" x2="130.96" y2="258.15" stroke="#262626" stroke-width="1.1"/>
<line x1="135.81" y1="254.35" x2="135.81" y2="258.15" stroke="#262626" stroke-width="1.1"/>
<line x1="139.90" y1="254.35" x2="139.90" y2="258.15" stroke="#262626" stroke-width="1.1"/>
<line x1="143.45" y1="254.35" x2="143.45" y2="258.15" stroke="#262626" stroke-width="1.1"/>
<line x1="146.58" y1="254.35" x2="146.58" y2="258.15" stroke="#262626" stroke-width="1.1"/>
<line x1="149.38" y1="254.35" x2="149.38" y2="260.35" stroke="#262626" stroke-width="1.1"/>
<text x="152.58" y="275.65" font-size="11.5" fill="#333" text-anchor="end" font-family="Liberation Sans, sans-serif">10</text>
<text x="151.28" y="267.65" font-size="8" fill="#333" font-family="Liberation Sans, sans-serif">15</text>
<line x1="167.80" y1="254.35" x2="167.80" y2="258.15" stroke="#262626" stroke-width="1.1"/>
<line x1="178.57" y1="254.35" x2="178.57" y2="258.15" stroke="#262626" stroke-width="1.1"/>
<line x1="186.21" y1="254.35" x2="186.21" y2="258.15" stroke="#262626" stroke-width="1.1"/>
<line x1="192.14" y1="254.35" x2="192.14" y2="258.15" stroke="#262626" stroke-width="1.1"/>
<line x1="196.99" y1="254.35" x2="196.99" y2="258.15" stroke="#262626" stroke-width="1.1"/>
<line x1="201.08" y1="254.35" x2="201.08" y2="258.15" stroke="#262626" stroke-width="1.1"/>
<line x1="204.63" y1="254.35" x2="204.63" y2="258.15" stroke="#262626" stroke-width="1.1"/>
<line x1="207.76" y1="254.35" x2="207.76" y2="258.15" stroke="#262626" stroke-width="1.1"/>
<line x1="210.56" y1="254.35" x2="210.56" y2="260.35" stroke="#262626" stroke-width="1.1"/>
<text x="213.76" y="275.65" font-size="11.5" fill="#333" text-anchor="end" font-family="Liberation Sans, sans-serif">10</text>
<text x="212.46" y="267.65" font-size="8" fill="#333" font-family="Liberation Sans, sans-serif">16</text>
<line x1="228.98" y1="254.35" x2="228.98" y2="258.15" stroke="#262626" stroke-width="1.1"/>
<line x1="239.75" y1="254.35" x2="239.75" y2="258.15" stroke="#262626" stroke-width="1.1"/>
<line x1="247.39" y1="254.35" x2="247.39" y2="258.15" stroke="#262626" stroke-width="1.1"/>
<line x1="253.32" y1="254.35" x2="253.32" y2="258.15" stroke="#262626" stroke-width="1.1"/>
<line x1="258.17" y1="254.35" x2="258.17" y2="258.15" stroke="#262626" stroke-width="1.1"/>
<line x1="262.26" y1="254.35" x2="262.26" y2="258.15" stroke="#262626" stroke-width="1.1"/>
<line x1="265.81" y1="254.35" x2="265.81" y2="258.15" stroke="#262626" stroke-width="1.1"/>
<line x1="268.94" y1="254.35" x2="268.94" y2="258.15" stroke="#262626" stroke-width="1.1"/>
<line x1="271.74" y1="254.35" x2="271.74" y2="260.35" stroke="#262626" stroke-width="1.1"/>
<text x="274.94" y="275.65" font-size="11.5" fill="#333" text-anchor="end" font-family="Liberation Sans, sans-serif">10</text>
<text x="273.64" y="267.65" font-size="8" fill="#333" font-family="Liberation Sans, sans-serif">17</text>
<line x1="290.16" y1="254.35" x2="290.16" y2="258.15" stroke="#262626" stroke-width="1.1"/>
<line x1="300.93" y1="254.35" x2="300.93" y2="258.15" stroke="#262626" stroke-width="1.1"/>
<line x1="308.57" y1="254.35" x2="308.57" y2="258.15" stroke="#262626" stroke-width="1.1"/>
<line x1="314.50" y1="254.35" x2="314.50" y2="258.15" stroke="#262626" stroke-width="1.1"/>
<line x1="319.35" y1="254.35" x2="319.35" y2="258.15" stroke="#262626" stroke-width="1.1"/>
<line x1="323.44" y1="254.35" x2="323.44" y2="258.15" stroke="#262626" stroke-width="1.1"/>
<line x1="326.99" y1="254.35" x2="326.99" y2="258.15" stroke="#262626" stroke-width="1.1"/>
<line x1="330.12" y1="254.35" x2="330.12" y2="258.15" stroke="#262626" stroke-width="1.1"/>
<line x1="332.92" y1="254.35" x2="332.92" y2="260.35" stroke="#262626" stroke-width="1.1"/>
<text x="336.12" y="275.65" font-size="11.5" fill="#333" text-anchor="end" font-family="Liberation Sans, sans-serif">10</text>
<text x="334.82" y="267.65" font-size="8" fill="#333" font-family="Liberation Sans, sans-serif">18</text>
<line x1="351.34" y1="254.35" x2="351.34" y2="258.15" stroke="#262626" stroke-width="1.1"/>
<line x1="362.11" y1="254.35" x2="362.11" y2="258.15" stroke="#262626" stroke-width="1.1"/>
<line x1="369.75" y1="254.35" x2="369.75" y2="258.15" stroke="#262626" stroke-width="1.1"/>
<line x1="375.68" y1="254.35" x2="375.68" y2="258.15" stroke="#262626" stroke-width="1.1"/>
<line x1="380.53" y1="254.35" x2="380.53" y2="258.15" stroke="#262626" stroke-width="1.1"/>
<line x1="384.62" y1="254.35" x2="384.62" y2="258.15" stroke="#262626" stroke-width="1.1"/>
<line x1="388.17" y1="254.35" x2="388.17" y2="258.15" stroke="#262626" stroke-width="1.1"/>
<line x1="391.30" y1="254.35" x2="391.30" y2="258.15" stroke="#262626" stroke-width="1.1"/>
<line x1="394.10" y1="254.35" x2="394.10" y2="260.35" stroke="#262626" stroke-width="1.1"/>
<text x="397.30" y="275.65" font-size="11.5" fill="#333" text-anchor="end" font-family="Liberation Sans, sans-serif">10</text>
<text x="396.00" y="267.65" font-size="8" fill="#333" font-family="Liberation Sans, sans-serif">19</text>
<line x1="412.52" y1="254.35" x2="412.52" y2="258.15" stroke="#262626" stroke-width="1.1"/>
<line x1="423.29" y1="254.35" x2="423.29" y2="258.15" stroke="#262626" stroke-width="1.1"/>
<line x1="430.93" y1="254.35" x2="430.93" y2="258.15" stroke="#262626" stroke-width="1.1"/>
<line x1="436.86" y1="254.35" x2="436.86" y2="258.15" stroke="#262626" stroke-width="1.1"/>
<line x1="441.71" y1="254.35" x2="441.71" y2="258.15" stroke="#262626" stroke-width="1.1"/>
<line x1="445.80" y1="254.35" x2="445.80" y2="258.15" stroke="#262626" stroke-width="1.1"/>
<line x1="449.35" y1="254.35" x2="449.35" y2="258.15" stroke="#262626" stroke-width="1.1"/>
<line x1="452.48" y1="254.35" x2="452.48" y2="258.15" stroke="#262626" stroke-width="1.1"/>
<line x1="455.28" y1="254.35" x2="455.28" y2="260.35" stroke="#262626" stroke-width="1.1"/>
<text x="458.48" y="275.65" font-size="11.5" fill="#333" text-anchor="end" font-family="Liberation Sans, sans-serif">10</text>
<text x="457.18" y="267.65" font-size="8" fill="#333" font-family="Liberation Sans, sans-serif">20</text>
<line x1="473.70" y1="254.35" x2="473.70" y2="258.15" stroke="#262626" stroke-width="1.1"/>
<line x1="484.47" y1="254.35" x2="484.47" y2="258.15" stroke="#262626" stroke-width="1.1"/>
<line x1="492.11" y1="254.35" x2="492.11" y2="258.15" stroke="#262626" stroke-width="1.1"/>
<line x1="498.04" y1="254.35" x2="498.04" y2="258.15" stroke="#262626" stroke-width="1.1"/>
<line x1="502.89" y1="254.35" x2="502.89" y2="258.15" stroke="#262626" stroke-width="1.1"/>
<line x1="62.5" y1="254.35" x2="68.5" y2="254.35" stroke="#262626" stroke-width="1.1"/>
<text x="59.0" y="259.18" font-size="11.5" fill="#333" text-anchor="end" font-family="Liberation Sans, sans-serif">0.00</text>
<line x1="62.5" y1="214.05" x2="68.5" y2="214.05" stroke="#262626" stroke-width="1.1"/>
<text x="59.0" y="218.88" font-size="11.5" fill="#333" text-anchor="end" font-family="Liberation Sans, sans-serif">0.10</text>
<line x1="62.5" y1="173.75" x2="68.5" y2="173.75" stroke="#262626" stroke-width="1.1"/>
<text x="59.0" y="178.58" font-size="11.5" fill="#333" text-anchor="end" font-family="Liberation Sans, sans-serif">0.20</text>
<line x1="62.5" y1="133.45" x2="68.5" y2="133.45" stroke="#262626" stroke-width="1.1"/>
<text x="59.0" y="138.28" font-size="11.5" fill="#333" text-anchor="end" font-family="Liberation Sans, sans-serif">0.30</text>
<line x1="62.5" y1="93.15" x2="68.5" y2="93.15" stroke="#262626" stroke-width="1.1"/>
<text x="59.0" y="97.98" font-size="11.5" fill="#333" text-anchor="end" font-family="Liberation Sans, sans-serif">0.40</text>
<line x1="62.5" y1="52.85" x2="68.5" y2="52.85" stroke="#262626" stroke-width="1.1"/>
<text x="59.0" y="57.68" font-size="11.5" fill="#333" text-anchor="end" font-family="Liberation Sans, sans-serif">0.50</text>
<text x="286.5" y="293.7" font-size="16.5" font-weight="bold" fill="#222" text-anchor="middle" font-family="Liberation Sans, sans-serif">Total Flops (C)</text>
<text transform="translate(29.0,134.0) rotate(-90)" font-size="16.6" font-weight="bold" fill="#222" text-anchor="middle" font-family="Liberation Sans, sans-serif">Alignment Score (S)</text>
<text x="8.6" y="21" font-size="20" letter-spacing="2" fill="#222" font-family="Liberation Sans, sans-serif">a)</text>
<rect x="334.5" y="126" width="164.3" height="122" rx="2.5" fill="#fff" fill-opacity="0.9" stroke="#d8d8d8" stroke-width="1"/>
<text x="371.4" y="139.30" font-size="11.2" fill="#333" font-family="Liberation Sans, sans-serif">AlexNet</text>
<text x="371.4" y="155.05" font-size="11.2" fill="#333" font-family="Liberation Sans, sans-serif">ConvNeXt</text>
<text x="371.4" y="170.80" font-size="11.2" fill="#333" font-family="Liberation Sans, sans-serif">CORnet-S</text>
<text x="371.4" y="186.55" font-size="11.2" fill="#333" font-family="Liberation Sans, sans-serif">ViT</text>
<text x="371.4" y="202.30" font-size="11.2" fill="#333" font-family="Liberation Sans, sans-serif">EfficientNet</text>
<text x="371.4" y="218.05" font-size="11.2" fill="#333" font-family="Liberation Sans, sans-serif">ResNet</text>
<line x1="339" y1="233.6" x2="362" y2="233.6" stroke="#128080" stroke-width="3" stroke-linecap="round"/>
<text x="369.2" y="238.3" font-size="13" font-style="italic" fill="#333" font-family="Liberation Sans, sans-serif">S</text>
<path d="M381,231.6H388.5M381,235.6H388.5" stroke="#333" stroke-width="1.0"/>
<text x="392" y="238.3" font-size="13.4" fill="#333" font-family="Liberation Sans, sans-serif">0.48</text>
<text x="419.5" y="238.3" font-size="14.5" fill="#333" font-family="Liberation Sans, sans-serif">−</text>
<text x="459" y="238.3" font-size="14.5" fill="#333" font-family="Liberation Sans, sans-serif">−</text>
<text x="442.5" y="233.6" font-size="9.6" fill="#333" text-anchor="middle" font-family="Liberation Sans, sans-serif">0.18</text>
<text x="481.5" y="233.6" font-size="9.6" fill="#333" text-anchor="middle" font-family="Liberation Sans, sans-serif">0.50</text>
<line x1="432" y1="235.6" x2="455" y2="235.6" stroke="#333" stroke-width="0.8"/>
<line x1="470" y1="235.6" x2="493" y2="235.6" stroke="#333" stroke-width="0.8"/>
<text x="432.4" y="243.3" font-size="8.5" font-style="italic" fill="#333" font-family="Liberation Sans, sans-serif">N</text>
<text x="439" y="240.8" font-size="6.8" fill="#333" font-family="Liberation Sans, sans-serif">−0.58</text>
<text x="469.5" y="243.3" font-size="8.5" font-style="italic" fill="#333" font-family="Liberation Sans, sans-serif">D</text>
<text x="476" y="240.8" font-size="6.8" fill="#333" font-family="Liberation Sans, sans-serif">−0.22</text>
<circle cx="350.2" cy="135.2" r="2.47" fill="#222" fill-opacity="1.0"/>
<path d="M348.2,149.2L352.2,153.2M348.2,153.2L352.2,149.2" stroke="#222" stroke-width="1.15" stroke-opacity="1.0"/>
<rect x="348.6" y="165.2" width="3.3" height="3.3" fill="#222" fill-opacity="1.0"/>
<path d="M347.5,183.0H352.9M350.2,180.3V185.7" stroke="#222" stroke-width="1.2" stroke-opacity="1.0"/>
<path d="M350.2,197.0L352.4,199.2L350.2,201.4L348.0,199.2Z" fill="#222" fill-opacity="1.0"/>
<path d="M350.2,212.8L351.4,214.7L350.2,216.6L349.0,214.7Z" fill="#222" fill-opacity="1.0"/>
<defs><linearGradient id="cb" x1="0" y1="0" x2="0" y2="1"><stop offset="0" stop-color="#178282"/><stop offset="0.25" stop-color="#38a2a2"/><stop offset="0.5" stop-color="#68c0c0"/><stop offset="0.75" stop-color="#a2dada"/><stop offset="1" stop-color="#e2f2f2"/></linearGradient></defs>
<rect x="531.5" y="13.5" width="13" height="240.5" fill="url(#cb)" stroke="#2a3a3a" stroke-width="1.2"/>
<line x1="544.5" y1="252.85" x2="546.8" y2="252.85" stroke="#333" stroke-width="1"/>
<line x1="544.5" y1="248.70" x2="546.8" y2="248.70" stroke="#333" stroke-width="1"/>
<line x1="544.5" y1="245.11" x2="546.8" y2="245.11" stroke="#333" stroke-width="1"/>
<line x1="544.5" y1="241.94" x2="546.8" y2="241.94" stroke="#333" stroke-width="1"/>
<line x1="544.5" y1="239.10" x2="548.5" y2="239.10" stroke="#333" stroke-width="1"/>
<text x="554.5" y="244.50" font-size="11" fill="#333" font-family="Liberation Sans, sans-serif">10</text>
<text x="567.3" y="236.70" font-size="8" fill="#333" font-family="Liberation Sans, sans-serif">5</text>
<line x1="544.5" y1="220.44" x2="546.8" y2="220.44" stroke="#333" stroke-width="1"/>
<line x1="544.5" y1="209.52" x2="546.8" y2="209.52" stroke="#333" stroke-width="1"/>
<line x1="544.5" y1="201.77" x2="546.8" y2="201.77" stroke="#333" stroke-width="1"/>
<line x1="544.5" y1="195.76" x2="546.8" y2="195.76" stroke="#333" stroke-width="1"/>
<line x1="544.5" y1="190.85" x2="546.8" y2="190.85" stroke="#333" stroke-width="1"/>
<line x1="544.5" y1="186.70" x2="546.8" y2="186.70" stroke="#333" stroke-width="1"/>
<line x1="544.5" y1="183.11" x2="546.8" y2="183.11" stroke="#333" stroke-width="1"/>
<line x1="544.5" y1="179.94" x2="546.8" y2="179.94" stroke="#333" stroke-width="1"/>
<line x1="544.5" y1="177.10" x2="548.5" y2="177.10" stroke="#333" stroke-width="1"/>
<text x="554.5" y="182.50" font-size="11" fill="#333" font-family="Liberation Sans, sans-serif">10</text>
<text x="567.3" y="174.70" font-size="8" fill="#333" font-family="Liberation Sans, sans-serif">6</text>
<line x1="544.5" y1="158.44" x2="546.8" y2="158.44" stroke="#333" stroke-width="1"/>
<line x1="544.5" y1="147.52" x2="546.8" y2="147.52" stroke="#333" stroke-width="1"/>
<line x1="544.5" y1="139.77" x2="546.8" y2="139.77" stroke="#333" stroke-width="1"/>
<line x1="544.5" y1="133.76" x2="546.8" y2="133.76" stroke="#333" stroke-width="1"/>
<line x1="544.5" y1="128.85" x2="546.8" y2="128.85" stroke="#333" stroke-width="1"/>
<line x1="544.5" y1="124.70" x2="546.8" y2="124.70" stroke="#333" stroke-width="1"/>
<line x1="544.5" y1="121.11" x2="546.8" y2="121.11" stroke="#333" stroke-width="1"/>
<line x1="544.5" y1="117.94" x2="546.8" y2="117.94" stroke="#333" stroke-width="1"/>
<line x1="544.5" y1="115.10" x2="548.5" y2="115.10" stroke="#333" stroke-width="1"/>
<text x="554.5" y="120.50" font-size="11" fill="#333" font-family="Liberation Sans, sans-serif">10</text>
<text x="567.3" y="112.70" font-size="8" fill="#333" font-family="Liberation Sans, sans-serif">7</text>
<line x1="544.5" y1="96.44" x2="546.8" y2="96.44" stroke="#333" stroke-width="1"/>
<line x1="544.5" y1="85.52" x2="546.8" y2="85.52" stroke="#333" stroke-width="1"/>
<line x1="544.5" y1="77.77" x2="546.8" y2="77.77" stroke="#333" stroke-width="1"/>
<line x1="544.5" y1="71.76" x2="546.8" y2="71.76" stroke="#333" stroke-width="1"/>
<line x1="544.5" y1="66.85" x2="546.8" y2="66.85" stroke="#333" stroke-width="1"/>
<line x1="544.5" y1="62.70" x2="546.8" y2="62.70" stroke="#333" stroke-width="1"/>
<line x1="544.5" y1="59.11" x2="546.8" y2="59.11" stroke="#333" stroke-width="1"/>
<line x1="544.5" y1="55.94" x2="546.8" y2="55.94" stroke="#333" stroke-width="1"/>
<line x1="544.5" y1="53.10" x2="548.5" y2="53.10" stroke="#333" stroke-width="1"/>
<text x="554.5" y="58.50" font-size="11" fill="#333" font-family="Liberation Sans, sans-serif">10</text>
<text x="567.3" y="50.70" font-size="8" fill="#333" font-family="Liberation Sans, sans-serif">8</text>
<line x1="544.5" y1="34.44" x2="546.8" y2="34.44" stroke="#333" stroke-width="1"/>
<line x1="544.5" y1="23.52" x2="546.8" y2="23.52" stroke="#333" stroke-width="1"/>
<line x1="544.5" y1="15.77" x2="546.8" y2="15.77" stroke="#333" stroke-width="1"/>
<text transform="translate(577.2,133.6) rotate(90)" font-size="12.2" fill="#333" text-anchor="middle" font-family="Liberation Sans, sans-serif">Number of Samples Seen</text>
<line x1="69.50" y1="317.4" x2="69.50" y2="543.4" stroke="#efefef" stroke-width="1"/>
<line x1="73.50" y1="317.4" x2="73.50" y2="543.4" stroke="#efefef" stroke-width="1"/>
<line x1="101.50" y1="317.4" x2="101.50" y2="543.4" stroke="#efefef" stroke-width="1"/>
<line x1="114.50" y1="317.4" x2="114.50" y2="543.4" stroke="#efefef" stroke-width="1"/>
<line x1="124.50" y1="317.4" x2="124.50" y2="543.4" stroke="#efefef" stroke-width="1"/>
<line x1="132.50" y1="317.4" x2="132.50" y2="543.4" stroke="#efefef" stroke-width="1"/>
<line x1="138.50" y1="317.4" x2="138.50" y2="543.4" stroke="#efefef" stroke-width="1"/>
<line x1="143.50" y1="317.4" x2="143.50" y2="543.4" stroke="#efefef" stroke-width="1"/>
<line x1="148.50" y1="317.4" x2="148.50" y2="543.4" stroke="#efefef" stroke-width="1"/>
<line x1="152.50" y1="317.4" x2="152.50" y2="543.4" stroke="#efefef" stroke-width="1"/>
<line x1="179.50" y1="317.4" x2="179.50" y2="543.4" stroke="#efefef" stroke-width="1"/>
<line x1="193.50" y1="317.4" x2="193.50" y2="543.4" stroke="#efefef" stroke-width="1"/>
<line x1="203.50" y1="317.4" x2="203.50" y2="543.4" stroke="#efefef" stroke-width="1"/>
<line x1="210.50" y1="317.4" x2="210.50" y2="543.4" stroke="#efefef" stroke-width="1"/>
<line x1="217.50" y1="317.4" x2="217.50" y2="543.4" stroke="#efefef" stroke-width="1"/>
<line x1="222.50" y1="317.4" x2="222.50" y2="543.4" stroke="#efefef" stroke-width="1"/>
<line x1="226.50" y1="317.4" x2="226.50" y2="543.4" stroke="#efefef" stroke-width="1"/>
<line x1="230.50" y1="317.4" x2="230.50" y2="543.4" stroke="#efefef" stroke-width="1"/>
<line x1="258.50" y1="317.4" x2="258.50" y2="543.4" stroke="#efefef" stroke-width="1"/>
<line x1="271.50" y1="317.4" x2="271.50" y2="543.4" stroke="#efefef" stroke-width="1"/>
<line x1="281.50" y1="317.4" x2="281.50" y2="543.4" stroke="#efefef" stroke-width="1"/>
<line x1="289.50" y1="317.4" x2="289.50" y2="543.4" stroke="#efefef" stroke-width="1"/>
<line x1="295.50" y1="317.4" x2="295.50" y2="543.4" stroke="#efefef" stroke-width="1"/>
<line x1="300.50" y1="317.4" x2="300.50" y2="543.4" stroke="#efefef" stroke-width="1"/>
<line x1="305.50" y1="317.4" x2="305.50" y2="543.4" stroke="#efefef" stroke-width="1"/>
<line x1="309.50" y1="317.4" x2="309.50" y2="543.4" stroke="#efefef" stroke-width="1"/>
<line x1="336.50" y1="317.4" x2="336.50" y2="543.4" stroke="#efefef" stroke-width="1"/>
<line x1="350.50" y1="317.4" x2="350.50" y2="543.4" stroke="#efefef" stroke-width="1"/>
<line x1="360.50" y1="317.4" x2="360.50" y2="543.4" stroke="#efefef" stroke-width="1"/>
<line x1="367.50" y1="317.4" x2="367.50" y2="543.4" stroke="#efefef" stroke-width="1"/>
<line x1="373.50" y1="317.4" x2="373.50" y2="543.4" stroke="#efefef" stroke-width="1"/>
<line x1="379.50" y1="317.4" x2="379.50" y2="543.4" stroke="#efefef" stroke-width="1"/>
<line x1="383.50" y1="317.4" x2="383.50" y2="543.4" stroke="#efefef" stroke-width="1"/>
<line x1="387.50" y1="317.4" x2="387.50" y2="543.4" stroke="#efefef" stroke-width="1"/>
<line x1="415.50" y1="317.4" x2="415.50" y2="543.4" stroke="#efefef" stroke-width="1"/>
<line x1="428.50" y1="317.4" x2="428.50" y2="543.4" stroke="#efefef" stroke-width="1"/>
<line x1="438.50" y1="317.4" x2="438.50" y2="543.4" stroke="#efefef" stroke-width="1"/>
<line x1="446.50" y1="317.4" x2="446.50" y2="543.4" stroke="#efefef" stroke-width="1"/>
<line x1="452.50" y1="317.4" x2="452.50" y2="543.4" stroke="#efefef" stroke-width="1"/>
<line x1="457.50" y1="317.4" x2="457.50" y2="543.4" stroke="#efefef" stroke-width="1"/>
<line x1="462.50" y1="317.4" x2="462.50" y2="543.4" stroke="#efefef" stroke-width="1"/>
<line x1="466.50" y1="317.4" x2="466.50" y2="543.4" stroke="#efefef" stroke-width="1"/>
<line x1="493.50" y1="317.4" x2="493.50" y2="543.4" stroke="#efefef" stroke-width="1"/>
<line x1="507.50" y1="317.4" x2="507.50" y2="543.4" stroke="#efefef" stroke-width="1"/>
<line x1="517.50" y1="317.4" x2="517.50" y2="543.4" stroke="#efefef" stroke-width="1"/>
<line x1="524.50" y1="317.4" x2="524.50" y2="543.4" stroke="#efefef" stroke-width="1"/>
<line x1="530.50" y1="317.4" x2="530.50" y2="543.4" stroke="#efefef" stroke-width="1"/>
<line x1="536.50" y1="317.4" x2="536.50" y2="543.4" stroke="#efefef" stroke-width="1"/>
<line x1="540.50" y1="317.4" x2="540.50" y2="543.4" stroke="#efefef" stroke-width="1"/>
<line x1="544.50" y1="317.4" x2="544.50" y2="543.4" stroke="#efefef" stroke-width="1"/>
<line x1="571.50" y1="317.4" x2="571.50" y2="543.4" stroke="#efefef" stroke-width="1"/>
<line x1="585.50" y1="317.4" x2="585.50" y2="543.4" stroke="#efefef" stroke-width="1"/>
<line x1="65.9" y1="498.50" x2="587.5" y2="498.50" stroke="#d9d9d9" stroke-width="1"/>
<line x1="65.9" y1="453.50" x2="587.5" y2="453.50" stroke="#d9d9d9" stroke-width="1"/>
<line x1="65.9" y1="407.50" x2="587.5" y2="407.50" stroke="#d9d9d9" stroke-width="1"/>
<line x1="65.9" y1="362.50" x2="587.5" y2="362.50" stroke="#d9d9d9" stroke-width="1"/>
<line x1="65.9" y1="317.50" x2="587.5" y2="317.50" stroke="#d9d9d9" stroke-width="1"/>
<line x1="77.50" y1="317.4" x2="77.50" y2="543.4" stroke="#cbcbcb" stroke-width="1"/>
<line x1="155.50" y1="317.4" x2="155.50" y2="543.4" stroke="#cbcbcb" stroke-width="1"/>
<line x1="234.50" y1="317.4" x2="234.50" y2="543.4" stroke="#cbcbcb" stroke-width="1"/>
<line x1="312.50" y1="317.4" x2="312.50" y2="543.4" stroke="#cbcbcb" stroke-width="1"/>
<line x1="391.50" y1="317.4" x2="391.50" y2="543.4" stroke="#cbcbcb" stroke-width="1"/>
<line x1="469.50" y1="317.4" x2="469.50" y2="543.4" stroke="#cbcbcb" stroke-width="1"/>
<line x1="548.50" y1="317.4" x2="548.50" y2="543.4" stroke="#cbcbcb" stroke-width="1"/>
<g>
<polygon points="88.7,456 128,478 128,503 88.7,478" fill="#bcd3ef" fill-opacity="0.4"/>
<polygon points="165,455 225,478 225,495 165,475" fill="#b8e6f2" fill-opacity="0.4"/>
<polygon points="137,438 170,436 170,449 137,451" fill="#b8e6f2" fill-opacity="0.4"/>
<polygon points="183,430 203,424 203,440 183,446" fill="#d8c8f0" fill-opacity="0.4"/>
<polygon points="309,486 333,438 341,446 318,494" fill="#c8c8f2" fill-opacity="0.4"/>
<polygon points="408,482 430,436 432,478" fill="#c8d2f2" fill-opacity="0.4"/>
<polygon points="452,482 472,450 472,470" fill="#c8d2f2" fill-opacity="0.4"/>
<polyline points="139.6,444.1 150.0,441.4 168.4,439.4 180.7,429.1 205.3,416.9 221.7,410.7 242.2,400.5 270.0,391.3 290.6,376.7 310.9,369.6 331.1,363.5 351.4,358.4 370.0,355.4 400.6,352.0 441.0,348.3 469.5,344.2" fill="none" stroke="#60cde6" stroke-width="1.9" stroke-dasharray="2.5,2.5" stroke-opacity="0.9" stroke-linejoin="round"/>
<path d="M147.6,441.4H152.4M150.0,439.0V443.8" stroke="#60cde6" stroke-width="1.20" stroke-opacity="0.9"/>
<path d="M166.0,439.4H170.8M168.4,437.0V441.8" stroke="#60cde6" stroke-width="1.20" stroke-opacity="0.9"/>
<path d="M178.3,429.1H183.1M180.7,426.7V431.5" stroke="#60cde6" stroke-width="1.20" stroke-opacity="0.9"/>
<path d="M202.9,416.9H207.7M205.3,414.5V419.3" stroke="#60cde6" stroke-width="1.20" stroke-opacity="0.9"/>
<path d="M219.3,410.7H224.1M221.7,408.3V413.1" stroke="#60cde6" stroke-width="1.20" stroke-opacity="0.9"/>
<path d="M239.8,400.5H244.6M242.2,398.1V402.9" stroke="#60cde6" stroke-width="1.20" stroke-opacity="0.9"/>
<path d="M267.6,391.3H272.4M270.0,388.9V393.7" stroke="#60cde6" stroke-width="1.20" stroke-opacity="0.9"/>
<path d="M288.2,376.7H293.0M290.6,374.3V379.1" stroke="#60cde6" stroke-width="1.20" stroke-opacity="0.9"/>
<path d="M308.5,369.6H313.3M310.9,367.2V372.0" stroke="#60cde6" stroke-width="1.20" stroke-opacity="0.9"/>
<path d="M328.7,363.5H333.5M331.1,361.1V365.9" stroke="#60cde6" stroke-width="1.20" stroke-opacity="0.9"/>
<path d="M349.0,358.4H353.8M351.4,356.0V360.8" stroke="#60cde6" stroke-width="1.20" stroke-opacity="0.9"/>
<path d="M367.6,355.4H372.4M370.0,353.0V357.8" stroke="#60cde6" stroke-width="1.20" stroke-opacity="0.9"/>
<path d="M398.2,352.0H403.0M400.6,349.6V354.4" stroke="#60cde6" stroke-width="1.20" stroke-opacity="0.9"/>
<path d="M438.6,348.3H443.4M441.0,345.9V350.7" stroke="#60cde6" stroke-width="1.20" stroke-opacity="0.9"/>
<polyline points="168.4,464.0 191.0,472.2 211.4,480.3 225.8,484.4 240.1,468.1 252.4,451.7 270.0,439.4 289.0,424.0 300.7,415.2 327.1,402.0 351.4,388.8 370.0,378.0 390.4,365.0 420.9,356.0 455.3,349.3" fill="none" stroke="#60cde6" stroke-width="1.9" stroke-dasharray="2.5,2.5" stroke-opacity="0.9" stroke-linejoin="round"/>
<path d="M188.6,472.2H193.4M191.0,469.8V474.6" stroke="#60cde6" stroke-width="1.20" stroke-opacity="0.9"/>
<path d="M209.0,480.3H213.8M211.4,477.9V482.7" stroke="#60cde6" stroke-width="1.20" stroke-opacity="0.9"/>
<path d="M223.4,484.4H228.2M225.8,482.0V486.8" stroke="#60cde6" stroke-width="1.20" stroke-opacity="0.9"/>
<path d="M237.7,468.1H242.5M240.1,465.7V470.5" stroke="#60cde6" stroke-width="1.20" stroke-opacity="0.9"/>
<path d="M250.0,451.7H254.8M252.4,449.3V454.1" stroke="#60cde6" stroke-width="1.20" stroke-opacity="0.9"/>
<path d="M267.6,439.4H272.4M270.0,437.0V441.8" stroke="#60cde6" stroke-width="1.20" stroke-opacity="0.9"/>
<path d="M286.6,424.0H291.4M289.0,421.6V426.4" stroke="#60cde6" stroke-width="1.20" stroke-opacity="0.9"/>
<path d="M298.3,415.2H303.1M300.7,412.8V417.6" stroke="#60cde6" stroke-width="1.20" stroke-opacity="0.9"/>
<path d="M324.7,402.0H329.5M327.1,399.6V404.4" stroke="#60cde6" stroke-width="1.20" stroke-opacity="0.9"/>
<path d="M349.0,388.8H353.8M351.4,386.4V391.2" stroke="#60cde6" stroke-width="1.20" stroke-opacity="0.9"/>
<path d="M367.6,378.0H372.4M370.0,375.6V380.4" stroke="#60cde6" stroke-width="1.20" stroke-opacity="0.9"/>
<path d="M388.0,365.0H392.8M390.4,362.6V367.4" stroke="#60cde6" stroke-width="1.20" stroke-opacity="0.9"/>
<path d="M418.5,356.0H423.3M420.9,353.6V358.4" stroke="#60cde6" stroke-width="1.20" stroke-opacity="0.9"/>
<polyline points="166.4,478.3 186.9,461.9 203.2,443.5 223.7,433.2 242.2,425.1 270.0,414.8 290.6,409.1 310.9,399.0 331.1,392.9 351.4,384.8 370.0,376.0 400.0,362.0 441.0,352.0 470.0,347.0" fill="none" stroke="#60cde6" stroke-width="1.9" stroke-dasharray="2.5,2.5" stroke-opacity="0.9" stroke-linejoin="round"/>
<path d="M184.5,461.9H189.3M186.9,459.5V464.3" stroke="#60cde6" stroke-width="1.20" stroke-opacity="0.9"/>
<path d="M200.8,443.5H205.6M203.2,441.1V445.9" stroke="#60cde6" stroke-width="1.20" stroke-opacity="0.9"/>
<path d="M221.3,433.2H226.1M223.7,430.8V435.6" stroke="#60cde6" stroke-width="1.20" stroke-opacity="0.9"/>
<path d="M239.8,425.1H244.6M242.2,422.7V427.5" stroke="#60cde6" stroke-width="1.20" stroke-opacity="0.9"/>
<path d="M267.6,414.8H272.4M270.0,412.4V417.2" stroke="#60cde6" stroke-width="1.20" stroke-opacity="0.9"/>
<path d="M288.2,409.1H293.0M290.6,406.7V411.5" stroke="#60cde6" stroke-width="1.20" stroke-opacity="0.9"/>
<path d="M308.5,399.0H313.3M310.9,396.6V401.4" stroke="#60cde6" stroke-width="1.20" stroke-opacity="0.9"/>
<path d="M328.7,392.9H333.5M331.1,390.5V395.3" stroke="#60cde6" stroke-width="1.20" stroke-opacity="0.9"/>
<path d="M349.0,384.8H353.8M351.4,382.4V387.2" stroke="#60cde6" stroke-width="1.20" stroke-opacity="0.9"/>
<path d="M367.6,376.0H372.4M370.0,373.6V378.4" stroke="#60cde6" stroke-width="1.20" stroke-opacity="0.9"/>
<path d="M397.6,362.0H402.4M400.0,359.6V364.4" stroke="#60cde6" stroke-width="1.20" stroke-opacity="0.9"/>
<path d="M438.6,352.0H443.4M441.0,349.6V354.4" stroke="#60cde6" stroke-width="1.20" stroke-opacity="0.9"/>
<polyline points="166.4,451.7 191.0,453.7 211.4,453.7 227.8,451.7 248.3,449.6 270.0,441.4 290.0,425.0 310.0,410.0 331.0,398.0 351.0,388.0 370.0,372.6 390.4,360.4 420.9,354.3 455.3,349.3" fill="none" stroke="#60cde6" stroke-width="1.9" stroke-dasharray="2.5,2.5" stroke-opacity="0.9" stroke-linejoin="round"/>
<path d="M188.6,453.7H193.4M191.0,451.3V456.1" stroke="#60cde6" stroke-width="1.20" stroke-opacity="0.9"/>
<path d="M209.0,453.7H213.8M211.4,451.3V456.1" stroke="#60cde6" stroke-width="1.20" stroke-opacity="0.9"/>
<path d="M225.4,451.7H230.2M227.8,449.3V454.1" stroke="#60cde6" stroke-width="1.20" stroke-opacity="0.9"/>
<path d="M245.9,449.6H250.7M248.3,447.2V452.0" stroke="#60cde6" stroke-width="1.20" stroke-opacity="0.9"/>
<path d="M267.6,441.4H272.4M270.0,439.0V443.8" stroke="#60cde6" stroke-width="1.20" stroke-opacity="0.9"/>
<path d="M287.6,425.0H292.4M290.0,422.6V427.4" stroke="#60cde6" stroke-width="1.20" stroke-opacity="0.9"/>
<path d="M307.6,410.0H312.4M310.0,407.6V412.4" stroke="#60cde6" stroke-width="1.20" stroke-opacity="0.9"/>
<path d="M328.6,398.0H333.4M331.0,395.6V400.4" stroke="#60cde6" stroke-width="1.20" stroke-opacity="0.9"/>
<path d="M348.6,388.0H353.4M351.0,385.6V390.4" stroke="#60cde6" stroke-width="1.20" stroke-opacity="0.9"/>
<path d="M367.6,372.6H372.4M370.0,370.2V375.0" stroke="#60cde6" stroke-width="1.20" stroke-opacity="0.9"/>
<path d="M388.0,360.4H392.8M390.4,358.0V362.8" stroke="#60cde6" stroke-width="1.20" stroke-opacity="0.9"/>
<path d="M418.5,354.3H423.3M420.9,351.9V356.7" stroke="#60cde6" stroke-width="1.20" stroke-opacity="0.9"/>
<polyline points="191.0,480.3 211.0,482.0 231.9,482.4 248.3,474.2 270.0,461.9 280.4,450.0 300.7,430.0 327.1,410.0 351.4,392.0 370.0,380.0 400.0,365.0 440.0,355.0 470.0,350.0" fill="none" stroke="#60cde6" stroke-width="1.9" stroke-dasharray="2.5,2.5" stroke-opacity="0.9" stroke-linejoin="round"/>
<path d="M208.6,482.0H213.4M211.0,479.6V484.4" stroke="#60cde6" stroke-width="1.20" stroke-opacity="0.9"/>
<path d="M229.5,482.4H234.3M231.9,480.0V484.8" stroke="#60cde6" stroke-width="1.20" stroke-opacity="0.9"/>
<path d="M245.9,474.2H250.7M248.3,471.8V476.6" stroke="#60cde6" stroke-width="1.20" stroke-opacity="0.9"/>
<path d="M267.6,461.9H272.4M270.0,459.5V464.3" stroke="#60cde6" stroke-width="1.20" stroke-opacity="0.9"/>
<path d="M278.0,450.0H282.8M280.4,447.6V452.4" stroke="#60cde6" stroke-width="1.20" stroke-opacity="0.9"/>
<path d="M298.3,430.0H303.1M300.7,427.6V432.4" stroke="#60cde6" stroke-width="1.20" stroke-opacity="0.9"/>
<path d="M324.7,410.0H329.5M327.1,407.6V412.4" stroke="#60cde6" stroke-width="1.20" stroke-opacity="0.9"/>
<path d="M349.0,392.0H353.8M351.4,389.6V394.4" stroke="#60cde6" stroke-width="1.20" stroke-opacity="0.9"/>
<path d="M367.6,380.0H372.4M370.0,377.6V382.4" stroke="#60cde6" stroke-width="1.20" stroke-opacity="0.9"/>
<path d="M397.6,365.0H402.4M400.0,362.6V367.4" stroke="#60cde6" stroke-width="1.20" stroke-opacity="0.9"/>
<path d="M437.6,355.0H442.4M440.0,352.6V357.4" stroke="#60cde6" stroke-width="1.20" stroke-opacity="0.9"/>
<polyline points="205.0,432.0 230.0,414.0 250.0,401.0 274.3,390.9 290.6,384.8 315.0,378.7 335.2,370.6 355.5,364.5 370.0,364.5 400.6,354.3 441.0,348.3 480.0,345.2" fill="none" stroke="#60cde6" stroke-width="1.9" stroke-dasharray="2.5,2.5" stroke-opacity="0.9" stroke-linejoin="round"/>
<path d="M227.6,414.0H232.4M230.0,411.6V416.4" stroke="#60cde6" stroke-width="1.20" stroke-opacity="0.9"/>
<path d="M247.6,401.0H252.4M250.0,398.6V403.4" stroke="#60cde6" stroke-width="1.20" stroke-opacity="0.9"/>
<path d="M271.9,390.9H276.7M274.3,388.5V393.3" stroke="#60cde6" stroke-width="1.20" stroke-opacity="0.9"/>
<path d="M288.2,384.8H293.0M290.6,382.4V387.2" stroke="#60cde6" stroke-width="1.20" stroke-opacity="0.9"/>
<path d="M312.6,378.7H317.4M315.0,376.3V381.1" stroke="#60cde6" stroke-width="1.20" stroke-opacity="0.9"/>
<path d="M332.8,370.6H337.6M335.2,368.2V373.0" stroke="#60cde6" stroke-width="1.20" stroke-opacity="0.9"/>
<path d="M353.1,364.5H357.9M355.5,362.1V366.9" stroke="#60cde6" stroke-width="1.20" stroke-opacity="0.9"/>
<path d="M367.6,364.5H372.4M370.0,362.1V366.9" stroke="#60cde6" stroke-width="1.20" stroke-opacity="0.9"/>
<path d="M398.2,354.3H403.0M400.6,351.9V356.7" stroke="#60cde6" stroke-width="1.20" stroke-opacity="0.9"/>
<path d="M438.6,348.3H443.4M441.0,345.9V350.7" stroke="#60cde6" stroke-width="1.20" stroke-opacity="0.9"/>
<polyline points="330.0,372.0 360.0,365.0 390.0,358.0 420.0,352.0 450.0,348.0 475.0,345.0" fill="none" stroke="#60cde6" stroke-width="1.9" stroke-dasharray="2.5,2.5" stroke-opacity="0.9" stroke-linejoin="round"/>
<path d="M357.6,365.0H362.4M360.0,362.6V367.4" stroke="#60cde6" stroke-width="1.20" stroke-opacity="0.9"/>
<path d="M387.6,358.0H392.4M390.0,355.6V360.4" stroke="#60cde6" stroke-width="1.20" stroke-opacity="0.9"/>
<path d="M417.6,352.0H422.4M420.0,349.6V354.4" stroke="#60cde6" stroke-width="1.20" stroke-opacity="0.9"/>
<path d="M447.6,348.0H452.4M450.0,345.6V350.4" stroke="#60cde6" stroke-width="1.20" stroke-opacity="0.9"/>
<polyline points="340.0,380.0 370.0,370.0 400.0,362.0 430.0,356.0 460.0,350.0 480.0,346.0" fill="none" stroke="#60cde6" stroke-width="1.9" stroke-dasharray="2.5,2.5" stroke-opacity="0.9" stroke-linejoin="round"/>
<path d="M367.6,370.0H372.4M370.0,367.6V372.4" stroke="#60cde6" stroke-width="1.20" stroke-opacity="0.9"/>
<path d="M397.6,362.0H402.4M400.0,359.6V364.4" stroke="#60cde6" stroke-width="1.20" stroke-opacity="0.9"/>
<path d="M427.6,356.0H432.4M430.0,353.6V358.4" stroke="#60cde6" stroke-width="1.20" stroke-opacity="0.9"/>
<path d="M457.6,350.0H462.4M460.0,347.6V352.4" stroke="#60cde6" stroke-width="1.20" stroke-opacity="0.9"/>
<polyline points="360.0,368.0 385.0,360.0 410.0,355.0 440.0,350.0 470.0,344.0" fill="none" stroke="#60cde6" stroke-width="1.9" stroke-dasharray="2.5,2.5" stroke-opacity="0.9" stroke-linejoin="round"/>
<path d="M382.6,360.0H387.4M385.0,357.6V362.4" stroke="#60cde6" stroke-width="1.20" stroke-opacity="0.9"/>
<path d="M407.6,355.0H412.4M410.0,352.6V357.4" stroke="#60cde6" stroke-width="1.20" stroke-opacity="0.9"/>
<path d="M437.6,350.0H442.4M440.0,347.6V352.4" stroke="#60cde6" stroke-width="1.20" stroke-opacity="0.9"/>
<polyline points="320.0,360.0 350.0,356.0 380.0,352.0 410.0,349.0 440.0,346.0 468.0,343.0" fill="none" stroke="#60cde6" stroke-width="1.9" stroke-dasharray="2.5,2.5" stroke-opacity="0.9" stroke-linejoin="round"/>
<path d="M347.6,356.0H352.4M350.0,353.6V358.4" stroke="#60cde6" stroke-width="1.20" stroke-opacity="0.9"/>
<path d="M377.6,352.0H382.4M380.0,349.6V354.4" stroke="#60cde6" stroke-width="1.20" stroke-opacity="0.9"/>
<path d="M407.6,349.0H412.4M410.0,346.6V351.4" stroke="#60cde6" stroke-width="1.20" stroke-opacity="0.9"/>
<path d="M437.6,346.0H442.4M440.0,343.6V348.4" stroke="#60cde6" stroke-width="1.20" stroke-opacity="0.9"/>
<polyline points="88.3,463.3 108.4,475.3 126.2,460.6 150.0,449.6 168.6,432.0 186.9,416.9 205.3,404.6 224.7,389.2 242.2,381.0 266.2,368.5 284.5,359.4 302.7,354.3 323.0,354.3 341.3,351.3 370.0,349.3 388.4,348.3" fill="none" stroke="#5e98dc" stroke-width="2.3" stroke-dasharray="7,2.5,2,2.5" stroke-opacity="0.9" stroke-linejoin="round"/>
<circle cx="108.4" cy="475.3" r="2.08" fill="#5e98dc" fill-opacity="0.9"/>
<circle cx="126.2" cy="460.6" r="2.08" fill="#5e98dc" fill-opacity="0.9"/>
<circle cx="150.0" cy="449.6" r="2.08" fill="#5e98dc" fill-opacity="0.9"/>
<circle cx="168.6" cy="432.0" r="2.08" fill="#5e98dc" fill-opacity="0.9"/>
<circle cx="186.9" cy="416.9" r="2.08" fill="#5e98dc" fill-opacity="0.9"/>
<circle cx="205.3" cy="404.6" r="2.08" fill="#5e98dc" fill-opacity="0.9"/>
<circle cx="224.7" cy="389.2" r="2.08" fill="#5e98dc" fill-opacity="0.9"/>
<circle cx="242.2" cy="381.0" r="2.08" fill="#5e98dc" fill-opacity="0.9"/>
<circle cx="266.2" cy="368.5" r="2.08" fill="#5e98dc" fill-opacity="0.9"/>
<circle cx="284.5" cy="359.4" r="2.08" fill="#5e98dc" fill-opacity="0.9"/>
<circle cx="302.7" cy="354.3" r="2.08" fill="#5e98dc" fill-opacity="0.9"/>
<circle cx="323.0" cy="354.3" r="2.08" fill="#5e98dc" fill-opacity="0.9"/>
<circle cx="341.3" cy="351.3" r="2.08" fill="#5e98dc" fill-opacity="0.9"/>
<circle cx="370.0" cy="349.3" r="2.08" fill="#5e98dc" fill-opacity="0.9"/>
<polyline points="108.4,475.3 124.0,484.3 141.8,486.5 150.0,478.3 170.5,461.9 186.9,443.5 205.3,423.0 221.7,414.8 240.1,405.6 260.6,392.3 270.0,386.1 284.5,372.0 302.7,362.5 319.0,360.4 337.2,355.4 370.0,351.3 400.0,350.0" fill="none" stroke="#6a9fde" stroke-width="1.8" stroke-dasharray="6,2.5,2,2.5" stroke-opacity="0.9" stroke-linejoin="round"/>
<circle cx="124.0" cy="484.3" r="2.08" fill="#6a9fde" fill-opacity="0.9"/>
<circle cx="141.8" cy="486.5" r="2.08" fill="#6a9fde" fill-opacity="0.9"/>
<circle cx="150.0" cy="478.3" r="2.08" fill="#6a9fde" fill-opacity="0.9"/>
<circle cx="170.5" cy="461.9" r="2.08" fill="#6a9fde" fill-opacity="0.9"/>
<circle cx="186.9" cy="443.5" r="2.08" fill="#6a9fde" fill-opacity="0.9"/>
<circle cx="205.3" cy="423.0" r="2.08" fill="#6a9fde" fill-opacity="0.9"/>
<circle cx="221.7" cy="414.8" r="2.08" fill="#6a9fde" fill-opacity="0.9"/>
<circle cx="240.1" cy="405.6" r="2.08" fill="#6a9fde" fill-opacity="0.9"/>
<circle cx="260.6" cy="392.3" r="2.08" fill="#6a9fde" fill-opacity="0.9"/>
<circle cx="270.0" cy="386.1" r="2.08" fill="#6a9fde" fill-opacity="0.9"/>
<circle cx="284.5" cy="372.0" r="2.08" fill="#6a9fde" fill-opacity="0.9"/>
<circle cx="302.7" cy="362.5" r="2.08" fill="#6a9fde" fill-opacity="0.9"/>
<circle cx="319.0" cy="360.4" r="2.08" fill="#6a9fde" fill-opacity="0.9"/>
<circle cx="337.2" cy="355.4" r="2.08" fill="#6a9fde" fill-opacity="0.9"/>
<circle cx="370.0" cy="351.3" r="2.08" fill="#6a9fde" fill-opacity="0.9"/>
<polyline points="124.0,480.0 150.0,482.4 168.0,468.0 186.9,451.7 203.2,431.2 221.7,421.0 242.2,406.6 270.0,392.3 290.6,384.0 310.9,375.0 331.1,368.0 351.4,362.0 370.0,358.0 400.0,353.0 430.0,350.0" fill="none" stroke="#6a9fde" stroke-width="1.8" stroke-dasharray="6,2.5,2,2.5" stroke-opacity="0.9" stroke-linejoin="round"/>
<circle cx="150.0" cy="482.4" r="2.08" fill="#6a9fde" fill-opacity="0.9"/>
<circle cx="168.0" cy="468.0" r="2.08" fill="#6a9fde" fill-opacity="0.9"/>
<circle cx="186.9" cy="451.7" r="2.08" fill="#6a9fde" fill-opacity="0.9"/>
<circle cx="203.2" cy="431.2" r="2.08" fill="#6a9fde" fill-opacity="0.9"/>
<circle cx="221.7" cy="421.0" r="2.08" fill="#6a9fde" fill-opacity="0.9"/>
<circle cx="242.2" cy="406.6" r="2.08" fill="#6a9fde" fill-opacity="0.9"/>
<circle cx="270.0" cy="392.3" r="2.08" fill="#6a9fde" fill-opacity="0.9"/>
<circle cx="290.6" cy="384.0" r="2.08" fill="#6a9fde" fill-opacity="0.9"/>
<circle cx="310.9" cy="375.0" r="2.08" fill="#6a9fde" fill-opacity="0.9"/>
<circle cx="331.1" cy="368.0" r="2.08" fill="#6a9fde" fill-opacity="0.9"/>
<circle cx="351.4" cy="362.0" r="2.08" fill="#6a9fde" fill-opacity="0.9"/>
<circle cx="370.0" cy="358.0" r="2.08" fill="#6a9fde" fill-opacity="0.9"/>
<circle cx="400.0" cy="353.0" r="2.08" fill="#6a9fde" fill-opacity="0.9"/>
<polyline points="118.0,469.0 128.4,467.7 142.0,467.7 164.3,457.8 182.0,441.0 204.3,429.0 226.6,420.0 253.3,412.0 274.3,405.0 298.7,394.9 321.0,385.8 341.3,380.7 360.0,378.7 384.3,370.6 410.7,362.5 441.0,356.4 480.0,347.2 516.1,346.6" fill="none" stroke="#eba2e4" stroke-width="2.0" stroke-dasharray="7,2.5" stroke-opacity="0.9" stroke-linejoin="round"/>
<circle cx="128.4" cy="467.7" r="2.08" fill="#eba2e4" fill-opacity="0.9"/>
<circle cx="142.0" cy="467.7" r="2.08" fill="#eba2e4" fill-opacity="0.9"/>
<circle cx="164.3" cy="457.8" r="2.08" fill="#eba2e4" fill-opacity="0.9"/>
<circle cx="182.0" cy="441.0" r="2.08" fill="#eba2e4" fill-opacity="0.9"/>
<circle cx="204.3" cy="429.0" r="2.08" fill="#eba2e4" fill-opacity="0.9"/>
<circle cx="226.6" cy="420.0" r="2.08" fill="#eba2e4" fill-opacity="0.9"/>
<circle cx="253.3" cy="412.0" r="2.08" fill="#eba2e4" fill-opacity="0.9"/>
<circle cx="274.3" cy="405.0" r="2.08" fill="#eba2e4" fill-opacity="0.9"/>
<circle cx="298.7" cy="394.9" r="2.08" fill="#eba2e4" fill-opacity="0.9"/>
<circle cx="321.0" cy="385.8" r="2.08" fill="#eba2e4" fill-opacity="0.9"/>
<circle cx="341.3" cy="380.7" r="2.08" fill="#eba2e4" fill-opacity="0.9"/>
<circle cx="360.0" cy="378.7" r="2.08" fill="#eba2e4" fill-opacity="0.9"/>
<circle cx="384.3" cy="370.6" r="2.08" fill="#eba2e4" fill-opacity="0.9"/>
<circle cx="410.7" cy="362.5" r="2.08" fill="#eba2e4" fill-opacity="0.9"/>
<circle cx="441.0" cy="356.4" r="2.08" fill="#eba2e4" fill-opacity="0.9"/>
<circle cx="480.0" cy="347.2" r="2.08" fill="#eba2e4" fill-opacity="0.9"/>
<polyline points="290.0,525.0 312.0,525.0 334.3,526.4 355.1,520.7 374.8,498.2 387.5,477.3 391.8,453.9 400.3,424.0 412.8,402.5 433.9,384.2 470.0,365.0 500.0,355.0 540.0,349.0" fill="none" stroke="#eba2e4" stroke-width="2.0" stroke-dasharray="7,2.5" stroke-opacity="0.9" stroke-linejoin="round"/>
<circle cx="312.0" cy="525.0" r="2.08" fill="#eba2e4" fill-opacity="0.9"/>
<circle cx="334.3" cy="526.4" r="2.08" fill="#eba2e4" fill-opacity="0.9"/>
<circle cx="355.1" cy="520.7" r="2.08" fill="#eba2e4" fill-opacity="0.9"/>
<circle cx="374.8" cy="498.2" r="2.08" fill="#eba2e4" fill-opacity="0.9"/>
<circle cx="387.5" cy="477.3" r="2.08" fill="#eba2e4" fill-opacity="0.9"/>
<circle cx="391.8" cy="453.9" r="2.08" fill="#eba2e4" fill-opacity="0.9"/>
<circle cx="400.3" cy="424.0" r="2.08" fill="#eba2e4" fill-opacity="0.9"/>
<circle cx="412.8" cy="402.5" r="2.08" fill="#eba2e4" fill-opacity="0.9"/>
<circle cx="433.9" cy="384.2" r="2.08" fill="#eba2e4" fill-opacity="0.9"/>
<circle cx="470.0" cy="365.0" r="2.08" fill="#eba2e4" fill-opacity="0.9"/>
<circle cx="500.0" cy="355.0" r="2.08" fill="#eba2e4" fill-opacity="0.9"/>
<polyline points="213.5,442.5 231.9,447.6 242.2,439.4 252.4,429.1 270.0,431.2 290.6,421.3 310.9,413.2 331.1,404.0 351.4,395.9 370.0,388.8 400.0,378.0 430.0,368.0 460.0,360.0 490.0,352.0" fill="none" stroke="#a47ad8" stroke-width="2.4" stroke-dasharray="1.8,2.6" stroke-opacity="0.9" stroke-linejoin="round"/>
<rect x="230.1" y="445.8" width="3.5" height="3.5" fill="#a47ad8" fill-opacity="0.9"/>
<rect x="240.4" y="437.6" width="3.5" height="3.5" fill="#a47ad8" fill-opacity="0.9"/>
<rect x="250.6" y="427.3" width="3.5" height="3.5" fill="#a47ad8" fill-opacity="0.9"/>
<rect x="268.2" y="429.4" width="3.5" height="3.5" fill="#a47ad8" fill-opacity="0.9"/>
<rect x="288.8" y="419.5" width="3.5" height="3.5" fill="#a47ad8" fill-opacity="0.9"/>
<rect x="309.1" y="411.4" width="3.5" height="3.5" fill="#a47ad8" fill-opacity="0.9"/>
<rect x="329.3" y="402.2" width="3.5" height="3.5" fill="#a47ad8" fill-opacity="0.9"/>
<rect x="349.6" y="394.1" width="3.5" height="3.5" fill="#a47ad8" fill-opacity="0.9"/>
<rect x="368.2" y="387.0" width="3.5" height="3.5" fill="#a47ad8" fill-opacity="0.9"/>
<rect x="398.2" y="376.2" width="3.5" height="3.5" fill="#a47ad8" fill-opacity="0.9"/>
<rect x="428.2" y="366.2" width="3.5" height="3.5" fill="#a47ad8" fill-opacity="0.9"/>
<rect x="458.2" y="358.2" width="3.5" height="3.5" fill="#a47ad8" fill-opacity="0.9"/>
<polyline points="360.0,385.0 384.3,375.0 410.7,366.0 441.0,358.0 470.0,352.0 500.0,349.0" fill="none" stroke="#a47ad8" stroke-width="2.4" stroke-dasharray="1.8,2.6" stroke-opacity="0.9" stroke-linejoin="round"/>
<rect x="382.5" y="373.2" width="3.5" height="3.5" fill="#a47ad8" fill-opacity="0.9"/>
<rect x="408.9" y="364.2" width="3.5" height="3.5" fill="#a47ad8" fill-opacity="0.9"/>
<rect x="439.2" y="356.2" width="3.5" height="3.5" fill="#a47ad8" fill-opacity="0.9"/>
<rect x="468.2" y="350.2" width="3.5" height="3.5" fill="#a47ad8" fill-opacity="0.9"/>
<polyline points="206.2,528.1 229.2,528.1 253.5,528.1 275.0,526.8 290.0,522.0 305.0,516.0 318.0,498.0 328.0,470.0 336.3,430.4 347.0,409.1 360.8,394.2 374.7,383.5 406.7,366.0 431.0,359.4 451.3,354.3 480.0,349.3 540.0,349.0" fill="none" stroke="#eb9fe8" stroke-width="2.5" stroke-dasharray="7,4" stroke-opacity="0.9" stroke-linejoin="round"/>
<path d="M227.4,526.3L231.0,529.9M227.4,529.9L231.0,526.3" stroke="#eb9fe8" stroke-width="1.12" stroke-opacity="0.9"/>
<path d="M251.7,526.3L255.3,529.9M251.7,529.9L255.3,526.3" stroke="#eb9fe8" stroke-width="1.12" stroke-opacity="0.9"/>
<path d="M273.2,525.0L276.8,528.6M273.2,528.6L276.8,525.0" stroke="#eb9fe8" stroke-width="1.12" stroke-opacity="0.9"/>
<path d="M288.2,520.2L291.8,523.8M288.2,523.8L291.8,520.2" stroke="#eb9fe8" stroke-width="1.12" stroke-opacity="0.9"/>
<path d="M303.2,514.2L306.8,517.8M303.2,517.8L306.8,514.2" stroke="#eb9fe8" stroke-width="1.12" stroke-opacity="0.9"/>
<path d="M316.2,496.2L319.8,499.8M316.2,499.8L319.8,496.2" stroke="#eb9fe8" stroke-width="1.12" stroke-opacity="0.9"/>
<path d="M326.2,468.2L329.8,471.8M326.2,471.8L329.8,468.2" stroke="#eb9fe8" stroke-width="1.12" stroke-opacity="0.9"/>
<path d="M334.5,428.6L338.1,432.2M334.5,432.2L338.1,428.6" stroke="#eb9fe8" stroke-width="1.12" stroke-opacity="0.9"/>
<path d="M345.2,407.3L348.8,410.9M345.2,410.9L348.8,407.3" stroke="#eb9fe8" stroke-width="1.12" stroke-opacity="0.9"/>
<path d="M359.0,392.4L362.6,396.0M359.0,396.0L362.6,392.4" stroke="#eb9fe8" stroke-width="1.12" stroke-opacity="0.9"/>
<path d="M372.9,381.7L376.5,385.3M372.9,385.3L376.5,381.7" stroke="#eb9fe8" stroke-width="1.12" stroke-opacity="0.9"/>
<path d="M404.9,364.2L408.5,367.8M404.9,367.8L408.5,364.2" stroke="#eb9fe8" stroke-width="1.12" stroke-opacity="0.9"/>
<path d="M429.2,357.6L432.8,361.2M429.2,361.2L432.8,357.6" stroke="#eb9fe8" stroke-width="1.12" stroke-opacity="0.9"/>
<path d="M449.5,352.5L453.1,356.1M449.5,356.1L453.1,352.5" stroke="#eb9fe8" stroke-width="1.12" stroke-opacity="0.9"/>
<path d="M478.2,347.5L481.8,351.1M478.2,351.1L481.8,347.5" stroke="#eb9fe8" stroke-width="1.12" stroke-opacity="0.9"/>
<polyline points="296.0,520.7 312.9,512.3 332.0,496.5 344.9,466.7 354.4,443.2 365.1,419.8 374.7,402.7 387.5,387.8 410.7,375.0 441.0,362.0 480.0,352.0 534.3,350.0 548.0,349.8" fill="none" stroke="#eb9fe8" stroke-width="2.5" stroke-dasharray="7,4" stroke-opacity="0.9" stroke-linejoin="round"/>
<path d="M311.1,510.5L314.7,514.1M311.1,514.1L314.7,510.5" stroke="#eb9fe8" stroke-width="1.12" stroke-opacity="0.9"/>
<path d="M330.2,494.7L333.8,498.3M330.2,498.3L333.8,494.7" stroke="#eb9fe8" stroke-width="1.12" stroke-opacity="0.9"/>
<path d="M343.1,464.9L346.7,468.5M343.1,468.5L346.7,464.9" stroke="#eb9fe8" stroke-width="1.12" stroke-opacity="0.9"/>
<path d="M352.6,441.4L356.2,445.0M352.6,445.0L356.2,441.4" stroke="#eb9fe8" stroke-width="1.12" stroke-opacity="0.9"/>
<path d="M363.3,418.0L366.9,421.6M363.3,421.6L366.9,418.0" stroke="#eb9fe8" stroke-width="1.12" stroke-opacity="0.9"/>
<path d="M372.9,400.9L376.5,404.5M372.9,404.5L376.5,400.9" stroke="#eb9fe8" stroke-width="1.12" stroke-opacity="0.9"/>
<path d="M385.7,386.0L389.3,389.6M385.7,389.6L389.3,386.0" stroke="#eb9fe8" stroke-width="1.12" stroke-opacity="0.9"/>
<path d="M408.9,373.2L412.5,376.8M408.9,376.8L412.5,373.2" stroke="#eb9fe8" stroke-width="1.12" stroke-opacity="0.9"/>
<path d="M439.2,360.2L442.8,363.8M439.2,363.8L442.8,360.2" stroke="#eb9fe8" stroke-width="1.12" stroke-opacity="0.9"/>
<path d="M478.2,350.2L481.8,353.8M478.2,353.8L481.8,350.2" stroke="#eb9fe8" stroke-width="1.12" stroke-opacity="0.9"/>
<path d="M532.5,348.2L536.1,351.8M532.5,351.8L536.1,348.2" stroke="#eb9fe8" stroke-width="1.12" stroke-opacity="0.9"/>
<polyline points="330.0,527.0 353.4,500.0 366.2,466.7 376.8,439.0 391.8,404.9 412.0,390.0 433.2,379.7 472.2,360.0 497.0,355.0 543.2,349.5" fill="none" stroke="#eb9fe8" stroke-width="2.5" stroke-dasharray="7,4" stroke-opacity="0.9" stroke-linejoin="round"/>
<path d="M351.6,498.2L355.2,501.8M351.6,501.8L355.2,498.2" stroke="#eb9fe8" stroke-width="1.12" stroke-opacity="0.9"/>
<path d="M364.4,464.9L368.0,468.5M364.4,468.5L368.0,464.9" stroke="#eb9fe8" stroke-width="1.12" stroke-opacity="0.9"/>
<path d="M375.0,437.2L378.6,440.8M375.0,440.8L378.6,437.2" stroke="#eb9fe8" stroke-width="1.12" stroke-opacity="0.9"/>
<path d="M390.0,403.1L393.6,406.7M390.0,406.7L393.6,403.1" stroke="#eb9fe8" stroke-width="1.12" stroke-opacity="0.9"/>
<path d="M410.2,388.2L413.8,391.8M410.2,391.8L413.8,388.2" stroke="#eb9fe8" stroke-width="1.12" stroke-opacity="0.9"/>
<path d="M431.4,377.9L435.0,381.5M431.4,381.5L435.0,377.9" stroke="#eb9fe8" stroke-width="1.12" stroke-opacity="0.9"/>
<path d="M470.4,358.2L474.0,361.8M470.4,361.8L474.0,358.2" stroke="#eb9fe8" stroke-width="1.12" stroke-opacity="0.9"/>
<path d="M495.2,353.2L498.8,356.8M495.2,356.8L498.8,353.2" stroke="#eb9fe8" stroke-width="1.12" stroke-opacity="0.9"/>
<polyline points="157.6,514.6 177.8,515.4 196.8,512.7 215.7,510.0 237.3,503.8 256.2,503.0 275.1,498.4 294.4,497.6 315.0,481.6 335.3,445.4 353.4,416.6 372.6,392.0 387.5,381.4 400.6,372.0 424.9,361.4 447.2,359.4 473.6,360.0" fill="none" stroke="#7682d6" stroke-width="2.4" stroke-dasharray="7,2.5,2,2.5" stroke-opacity="0.9" stroke-linejoin="round"/>
<path d="M175.4,515.4H180.2M177.8,513.0V517.8" stroke="#7682d6" stroke-width="1.20" stroke-opacity="0.9"/>
<path d="M194.4,512.7H199.2M196.8,510.3V515.1" stroke="#7682d6" stroke-width="1.20" stroke-opacity="0.9"/>
<path d="M213.3,510.0H218.1M215.7,507.6V512.4" stroke="#7682d6" stroke-width="1.20" stroke-opacity="0.9"/>
<path d="M234.9,503.8H239.7M237.3,501.4V506.2" stroke="#7682d6" stroke-width="1.20" stroke-opacity="0.9"/>
<path d="M253.8,503.0H258.6M256.2,500.6V505.4" stroke="#7682d6" stroke-width="1.20" stroke-opacity="0.9"/>
<path d="M272.7,498.4H277.5M275.1,496.0V500.8" stroke="#7682d6" stroke-width="1.20" stroke-opacity="0.9"/>
<path d="M292.0,497.6H296.8M294.4,495.2V500.0" stroke="#7682d6" stroke-width="1.20" stroke-opacity="0.9"/>
<path d="M312.6,481.6H317.4M315.0,479.2V484.0" stroke="#7682d6" stroke-width="1.20" stroke-opacity="0.9"/>
<path d="M332.9,445.4H337.7M335.3,443.0V447.8" stroke="#7682d6" stroke-width="1.20" stroke-opacity="0.9"/>
<path d="M351.0,416.6H355.8M353.4,414.2V419.0" stroke="#7682d6" stroke-width="1.20" stroke-opacity="0.9"/>
<path d="M370.2,392.0H375.0M372.6,389.6V394.4" stroke="#7682d6" stroke-width="1.20" stroke-opacity="0.9"/>
<path d="M385.1,381.4H389.9M387.5,379.0V383.8" stroke="#7682d6" stroke-width="1.20" stroke-opacity="0.9"/>
<path d="M398.2,372.0H403.0M400.6,369.6V374.4" stroke="#7682d6" stroke-width="1.20" stroke-opacity="0.9"/>
<path d="M422.5,361.4H427.3M424.9,359.0V363.8" stroke="#7682d6" stroke-width="1.20" stroke-opacity="0.9"/>
<path d="M444.8,359.4H449.6M447.2,357.0V361.8" stroke="#7682d6" stroke-width="1.20" stroke-opacity="0.9"/>
<polyline points="204.9,517.3 225.1,519.5 242.7,512.7 253.5,516.0 269.7,507.8 283.2,505.1 296.0,503.8 321.3,495.4 342.7,492.3 359.8,466.7 370.4,445.4 379.0,421.9 383.2,413.4 391.8,407.0 404.6,398.5 425.5,385.0 441.0,371.6 469.5,364.5 500.0,358.0" fill="none" stroke="#7682d6" stroke-width="2.4" stroke-dasharray="7,2.5,2,2.5" stroke-opacity="0.9" stroke-linejoin="round"/>
<path d="M222.7,519.5H227.5M225.1,517.1V521.9" stroke="#7682d6" stroke-width="1.20" stroke-opacity="0.9"/>
<path d="M240.3,512.7H245.1M242.7,510.3V515.1" stroke="#7682d6" stroke-width="1.20" stroke-opacity="0.9"/>
<path d="M251.1,516.0H255.9M253.5,513.6V518.4" stroke="#7682d6" stroke-width="1.20" stroke-opacity="0.9"/>
<path d="M267.3,507.8H272.1M269.7,505.4V510.2" stroke="#7682d6" stroke-width="1.20" stroke-opacity="0.9"/>
<path d="M280.8,505.1H285.6M283.2,502.7V507.5" stroke="#7682d6" stroke-width="1.20" stroke-opacity="0.9"/>
<path d="M293.6,503.8H298.4M296.0,501.4V506.2" stroke="#7682d6" stroke-width="1.20" stroke-opacity="0.9"/>
<path d="M318.9,495.4H323.7M321.3,493.0V497.8" stroke="#7682d6" stroke-width="1.20" stroke-opacity="0.9"/>
<path d="M340.3,492.3H345.1M342.7,489.9V494.7" stroke="#7682d6" stroke-width="1.20" stroke-opacity="0.9"/>
<path d="M357.4,466.7H362.2M359.8,464.3V469.1" stroke="#7682d6" stroke-width="1.20" stroke-opacity="0.9"/>
<path d="M368.0,445.4H372.8M370.4,443.0V447.8" stroke="#7682d6" stroke-width="1.20" stroke-opacity="0.9"/>
<path d="M376.6,421.9H381.4M379.0,419.5V424.3" stroke="#7682d6" stroke-width="1.20" stroke-opacity="0.9"/>
<path d="M380.8,413.4H385.6M383.2,411.0V415.8" stroke="#7682d6" stroke-width="1.20" stroke-opacity="0.9"/>
<path d="M389.4,407.0H394.2M391.8,404.6V409.4" stroke="#7682d6" stroke-width="1.20" stroke-opacity="0.9"/>
<path d="M402.2,398.5H407.0M404.6,396.1V400.9" stroke="#7682d6" stroke-width="1.20" stroke-opacity="0.9"/>
<path d="M423.1,385.0H427.9M425.5,382.6V387.4" stroke="#7682d6" stroke-width="1.20" stroke-opacity="0.9"/>
<path d="M438.6,371.6H443.4M441.0,369.2V374.0" stroke="#7682d6" stroke-width="1.20" stroke-opacity="0.9"/>
<path d="M467.1,364.5H471.9M469.5,362.1V366.9" stroke="#7682d6" stroke-width="1.20" stroke-opacity="0.9"/>
<polyline points="290.0,505.3 312.9,512.3 332.6,503.8 352.3,510.9 370.4,500.0 387.5,478.4 408.6,479.9 428.3,460.2 447.4,468.0 452.0,445.0 457.0,425.0 466.3,404.4 514.0,353.0 520.0,353.0" fill="none" stroke="#7080d8" stroke-width="3.6" stroke-dasharray="9,3.5,2.5,3.5" stroke-opacity="0.9" stroke-linejoin="round"/>
<path d="M310.5,512.3H315.3M312.9,509.9V514.7" stroke="#7080d8" stroke-width="1.20" stroke-opacity="0.9"/>
<path d="M330.2,503.8H335.0M332.6,501.4V506.2" stroke="#7080d8" stroke-width="1.20" stroke-opacity="0.9"/>
<path d="M349.9,510.9H354.7M352.3,508.5V513.3" stroke="#7080d8" stroke-width="1.20" stroke-opacity="0.9"/>
<path d="M368.0,500.0H372.8M370.4,497.6V502.4" stroke="#7080d8" stroke-width="1.20" stroke-opacity="0.9"/>
<path d="M385.1,478.4H389.9M387.5,476.0V480.8" stroke="#7080d8" stroke-width="1.20" stroke-opacity="0.9"/>
<path d="M406.2,479.9H411.0M408.6,477.5V482.3" stroke="#7080d8" stroke-width="1.20" stroke-opacity="0.9"/>
<path d="M425.9,460.2H430.7M428.3,457.8V462.6" stroke="#7080d8" stroke-width="1.20" stroke-opacity="0.9"/>
<path d="M445.0,468.0H449.8M447.4,465.6V470.4" stroke="#7080d8" stroke-width="1.20" stroke-opacity="0.9"/>
<path d="M449.6,445.0H454.4M452.0,442.6V447.4" stroke="#7080d8" stroke-width="1.20" stroke-opacity="0.9"/>
<path d="M454.6,425.0H459.4M457.0,422.6V427.4" stroke="#7080d8" stroke-width="1.20" stroke-opacity="0.9"/>
<path d="M463.9,404.4H468.7M466.3,402.0V406.8" stroke="#7080d8" stroke-width="1.20" stroke-opacity="0.9"/>
<path d="M511.6,353.0H516.4M514.0,350.6V355.4" stroke="#7080d8" stroke-width="1.20" stroke-opacity="0.9"/>
<polyline points="290.0,509.8 314.4,513.1 332.6,505.2 350.9,509.5 374.8,501.0 393.1,509.5 408.6,495.4 429.7,474.3 452.7,482.5 472.2,459.5 486.4,475.4 498.0,460.0 503.0,430.0 509.0,406.0 561.0,349.5 564.5,349.5" fill="none" stroke="#7080d8" stroke-width="3.6" stroke-dasharray="9,3.5,2.5,3.5" stroke-opacity="0.9" stroke-linejoin="round"/>
<path d="M312.0,513.1H316.8M314.4,510.7V515.5" stroke="#7080d8" stroke-width="1.20" stroke-opacity="0.9"/>
<path d="M330.2,505.2H335.0M332.6,502.8V507.6" stroke="#7080d8" stroke-width="1.20" stroke-opacity="0.9"/>
<path d="M348.5,509.5H353.3M350.9,507.1V511.9" stroke="#7080d8" stroke-width="1.20" stroke-opacity="0.9"/>
<path d="M372.4,501.0H377.2M374.8,498.6V503.4" stroke="#7080d8" stroke-width="1.20" stroke-opacity="0.9"/>
<path d="M390.7,509.5H395.5M393.1,507.1V511.9" stroke="#7080d8" stroke-width="1.20" stroke-opacity="0.9"/>
<path d="M406.2,495.4H411.0M408.6,493.0V497.8" stroke="#7080d8" stroke-width="1.20" stroke-opacity="0.9"/>
<path d="M427.3,474.3H432.1M429.7,471.9V476.7" stroke="#7080d8" stroke-width="1.20" stroke-opacity="0.9"/>
<path d="M450.3,482.5H455.1M452.7,480.1V484.9" stroke="#7080d8" stroke-width="1.20" stroke-opacity="0.9"/>
<path d="M469.8,459.5H474.6M472.2,457.1V461.9" stroke="#7080d8" stroke-width="1.20" stroke-opacity="0.9"/>
<path d="M484.0,475.4H488.8M486.4,473.0V477.8" stroke="#7080d8" stroke-width="1.20" stroke-opacity="0.9"/>
<path d="M495.6,460.0H500.4M498.0,457.6V462.4" stroke="#7080d8" stroke-width="1.20" stroke-opacity="0.9"/>
<path d="M500.6,430.0H505.4M503.0,427.6V432.4" stroke="#7080d8" stroke-width="1.20" stroke-opacity="0.9"/>
<path d="M506.6,406.0H511.4M509.0,403.6V408.4" stroke="#7080d8" stroke-width="1.20" stroke-opacity="0.9"/>
<path d="M558.6,349.5H563.4M561.0,347.1V351.9" stroke="#7080d8" stroke-width="1.20" stroke-opacity="0.9"/>
<path d="M328.3,413.0H333.7M331.0,410.3V415.7" stroke="#7682d6" stroke-width="1.35" stroke-opacity="0.9"/>
<path d="M334.3,414.0H339.7M337.0,411.3V416.7" stroke="#7682d6" stroke-width="1.35" stroke-opacity="0.9"/>
<polygon points="466,356 471,352 471,372 466,380" fill="#c8c8f2" fill-opacity="0.6"/>
</g>
<line x1="65.9" y1="317.4" x2="65.9" y2="543.4" stroke="#262626" stroke-width="1.3"/>
<line x1="65.9" y1="543.4" x2="587.5" y2="543.4" stroke="#262626" stroke-width="1.3"/>
<line x1="69.90" y1="543.4" x2="69.90" y2="546.9" stroke="#262626" stroke-width="1.1"/>
<line x1="73.91" y1="543.4" x2="73.91" y2="546.9" stroke="#262626" stroke-width="1.1"/>
<line x1="77.50" y1="543.4" x2="77.50" y2="549.0" stroke="#262626" stroke-width="1.1"/>
<text x="80.10" y="563.6999999999999" font-size="10.3" fill="#333" text-anchor="end" font-family="Liberation Sans, sans-serif">10</text>
<text x="78.50" y="556.4" font-size="7.5" fill="#333" font-family="Liberation Sans, sans-serif">14</text>
<line x1="101.12" y1="543.4" x2="101.12" y2="546.9" stroke="#262626" stroke-width="1.1"/>
<line x1="114.94" y1="543.4" x2="114.94" y2="546.9" stroke="#262626" stroke-width="1.1"/>
<line x1="124.74" y1="543.4" x2="124.74" y2="546.9" stroke="#262626" stroke-width="1.1"/>
<line x1="132.35" y1="543.4" x2="132.35" y2="546.9" stroke="#262626" stroke-width="1.1"/>
<line x1="138.56" y1="543.4" x2="138.56" y2="546.9" stroke="#262626" stroke-width="1.1"/>
<line x1="143.81" y1="543.4" x2="143.81" y2="546.9" stroke="#262626" stroke-width="1.1"/>
<line x1="148.37" y1="543.4" x2="148.37" y2="546.9" stroke="#262626" stroke-width="1.1"/>
<line x1="152.38" y1="543.4" x2="152.38" y2="546.9" stroke="#262626" stroke-width="1.1"/>
<line x1="155.97" y1="543.4" x2="155.97" y2="549.0" stroke="#262626" stroke-width="1.1"/>
<text x="158.57" y="563.6999999999999" font-size="10.3" fill="#333" text-anchor="end" font-family="Liberation Sans, sans-serif">10</text>
<text x="156.97" y="556.4" font-size="7.5" fill="#333" font-family="Liberation Sans, sans-serif">15</text>
<line x1="179.59" y1="543.4" x2="179.59" y2="546.9" stroke="#262626" stroke-width="1.1"/>
<line x1="193.41" y1="543.4" x2="193.41" y2="546.9" stroke="#262626" stroke-width="1.1"/>
<line x1="203.21" y1="543.4" x2="203.21" y2="546.9" stroke="#262626" stroke-width="1.1"/>
<line x1="210.82" y1="543.4" x2="210.82" y2="546.9" stroke="#262626" stroke-width="1.1"/>
<line x1="217.03" y1="543.4" x2="217.03" y2="546.9" stroke="#262626" stroke-width="1.1"/>
<line x1="222.28" y1="543.4" x2="222.28" y2="546.9" stroke="#262626" stroke-width="1.1"/>
<line x1="226.84" y1="543.4" x2="226.84" y2="546.9" stroke="#262626" stroke-width="1.1"/>
<line x1="230.85" y1="543.4" x2="230.85" y2="546.9" stroke="#262626" stroke-width="1.1"/>
<line x1="234.44" y1="543.4" x2="234.44" y2="549.0" stroke="#262626" stroke-width="1.1"/>
<text x="237.04" y="563.6999999999999" font-size="10.3" fill="#333" text-anchor="end" font-family="Liberation Sans, sans-serif">10</text>
<text x="235.44" y="556.4" font-size="7.5" fill="#333" font-family="Liberation Sans, sans-serif">16</text>
<line x1="258.06" y1="543.4" x2="258.06" y2="546.9" stroke="#262626" stroke-width="1.1"/>
<line x1="271.88" y1="543.4" x2="271.88" y2="546.9" stroke="#262626" stroke-width="1.1"/>
<line x1="281.68" y1="543.4" x2="281.68" y2="546.9" stroke="#262626" stroke-width="1.1"/>
<line x1="289.29" y1="543.4" x2="289.29" y2="546.9" stroke="#262626" stroke-width="1.1"/>
<line x1="295.50" y1="543.4" x2="295.50" y2="546.9" stroke="#262626" stroke-width="1.1"/>
<line x1="300.75" y1="543.4" x2="300.75" y2="546.9" stroke="#262626" stroke-width="1.1"/>
<line x1="305.31" y1="543.4" x2="305.31" y2="546.9" stroke="#262626" stroke-width="1.1"/>
<line x1="309.32" y1="543.4" x2="309.32" y2="546.9" stroke="#262626" stroke-width="1.1"/>
<line x1="312.91" y1="543.4" x2="312.91" y2="549.0" stroke="#262626" stroke-width="1.1"/>
<text x="315.51" y="563.6999999999999" font-size="10.3" fill="#333" text-anchor="end" font-family="Liberation Sans, sans-serif">10</text>
<text x="313.91" y="556.4" font-size="7.5" fill="#333" font-family="Liberation Sans, sans-serif">17</text>
<line x1="336.53" y1="543.4" x2="336.53" y2="546.9" stroke="#262626" stroke-width="1.1"/>
<line x1="350.35" y1="543.4" x2="350.35" y2="546.9" stroke="#262626" stroke-width="1.1"/>
<line x1="360.15" y1="543.4" x2="360.15" y2="546.9" stroke="#262626" stroke-width="1.1"/>
<line x1="367.76" y1="543.4" x2="367.76" y2="546.9" stroke="#262626" stroke-width="1.1"/>
<line x1="373.97" y1="543.4" x2="373.97" y2="546.9" stroke="#262626" stroke-width="1.1"/>
<line x1="379.22" y1="543.4" x2="379.22" y2="546.9" stroke="#262626" stroke-width="1.1"/>
<line x1="383.78" y1="543.4" x2="383.78" y2="546.9" stroke="#262626" stroke-width="1.1"/>
<line x1="387.79" y1="543.4" x2="387.79" y2="546.9" stroke="#262626" stroke-width="1.1"/>
<line x1="391.38" y1="543.4" x2="391.38" y2="549.0" stroke="#262626" stroke-width="1.1"/>
<text x="393.98" y="563.6999999999999" font-size="10.3" fill="#333" text-anchor="end" font-family="Liberation Sans, sans-serif">10</text>
<text x="392.38" y="556.4" font-size="7.5" fill="#333" font-family="Liberation Sans, sans-serif">18</text>
<line x1="415.00" y1="543.4" x2="415.00" y2="546.9" stroke="#262626" stroke-width="1.1"/>
<line x1="428.82" y1="543.4" x2="428.82" y2="546.9" stroke="#262626" stroke-width="1.1"/>
<line x1="438.62" y1="543.4" x2="438.62" y2="546.9" stroke="#262626" stroke-width="1.1"/>
<line x1="446.23" y1="543.4" x2="446.23" y2="546.9" stroke="#262626" stroke-width="1.1"/>
<line x1="452.44" y1="543.4" x2="452.44" y2="546.9" stroke="#262626" stroke-width="1.1"/>
<line x1="457.69" y1="543.4" x2="457.69" y2="546.9" stroke="#262626" stroke-width="1.1"/>
<line x1="462.25" y1="543.4" x2="462.25" y2="546.9" stroke="#262626" stroke-width="1.1"/>
<line x1="466.26" y1="543.4" x2="466.26" y2="546.9" stroke="#262626" stroke-width="1.1"/>
<line x1="469.85" y1="543.4" x2="469.85" y2="549.0" stroke="#262626" stroke-width="1.1"/>
<text x="472.45" y="563.6999999999999" font-size="10.3" fill="#333" text-anchor="end" font-family="Liberation Sans, sans-serif">10</text>
<text x="470.85" y="556.4" font-size="7.5" fill="#333" font-family="Liberation Sans, sans-serif">19</text>
<line x1="493.47" y1="543.4" x2="493.47" y2="546.9" stroke="#262626" stroke-width="1.1"/>
<line x1="507.29" y1="543.4" x2="507.29" y2="546.9" stroke="#262626" stroke-width="1.1"/>
<line x1="517.09" y1="543.4" x2="517.09" y2="546.9" stroke="#262626" stroke-width="1.1"/>
<line x1="524.70" y1="543.4" x2="524.70" y2="546.9" stroke="#262626" stroke-width="1.1"/>
<line x1="530.91" y1="543.4" x2="530.91" y2="546.9" stroke="#262626" stroke-width="1.1"/>
<line x1="536.16" y1="543.4" x2="536.16" y2="546.9" stroke="#262626" stroke-width="1.1"/>
<line x1="540.72" y1="543.4" x2="540.72" y2="546.9" stroke="#262626" stroke-width="1.1"/>
<line x1="544.73" y1="543.4" x2="544.73" y2="546.9" stroke="#262626" stroke-width="1.1"/>
<line x1="548.32" y1="543.4" x2="548.32" y2="549.0" stroke="#262626" stroke-width="1.1"/>
<text x="550.92" y="563.6999999999999" font-size="10.3" fill="#333" text-anchor="end" font-family="Liberation Sans, sans-serif">10</text>
<text x="549.32" y="556.4" font-size="7.5" fill="#333" font-family="Liberation Sans, sans-serif">20</text>
<line x1="571.94" y1="543.4" x2="571.94" y2="546.9" stroke="#262626" stroke-width="1.1"/>
<line x1="585.76" y1="543.4" x2="585.76" y2="546.9" stroke="#262626" stroke-width="1.1"/>
<line x1="60.300000000000004" y1="543.40" x2="65.9" y2="543.40" stroke="#262626" stroke-width="1.1"/>
<text x="56.6" y="547.85" font-size="10.6" fill="#333" text-anchor="end" font-family="Liberation Sans, sans-serif">0.00</text>
<line x1="60.300000000000004" y1="498.20" x2="65.9" y2="498.20" stroke="#262626" stroke-width="1.1"/>
<text x="56.6" y="502.65" font-size="10.6" fill="#333" text-anchor="end" font-family="Liberation Sans, sans-serif">0.10</text>
<line x1="60.300000000000004" y1="453.00" x2="65.9" y2="453.00" stroke="#262626" stroke-width="1.1"/>
<text x="56.6" y="457.45" font-size="10.6" fill="#333" text-anchor="end" font-family="Liberation Sans, sans-serif">0.20</text>
<line x1="60.300000000000004" y1="407.80" x2="65.9" y2="407.80" stroke="#262626" stroke-width="1.1"/>
<text x="56.6" y="412.25" font-size="10.6" fill="#333" text-anchor="end" font-family="Liberation Sans, sans-serif">0.30</text>
<line x1="60.300000000000004" y1="362.60" x2="65.9" y2="362.60" stroke="#262626" stroke-width="1.1"/>
<text x="56.6" y="367.05" font-size="10.6" fill="#333" text-anchor="end" font-family="Liberation Sans, sans-serif">0.40</text>
<line x1="60.300000000000004" y1="317.40" x2="65.9" y2="317.40" stroke="#262626" stroke-width="1.1"/>
<text x="56.6" y="321.85" font-size="10.6" fill="#333" text-anchor="end" font-family="Liberation Sans, sans-serif">0.50</text>
<text x="326.4" y="581.5" font-size="15.8" font-weight="bold" fill="#222" text-anchor="middle" font-family="Liberation Sans, sans-serif">Total Flops (C)</text>
<text transform="translate(28.2,430.6) rotate(-90)" font-size="15.9" font-weight="bold" fill="#222" text-anchor="middle" font-family="Liberation Sans, sans-serif">Alignment Score (S)</text>
<text x="8" y="322" font-size="20" letter-spacing="1.6" fill="#222" font-family="Liberation Sans, sans-serif">b)</text>
<rect x="487.8" y="442.8" width="93.8" height="94.4" rx="2.5" fill="#fff" fill-opacity="0.9" stroke="#d8d8d8" stroke-width="1"/>
<text x="522.6" y="455.10" font-size="10.8" fill="#333" font-family="Liberation Sans, sans-serif">AlexNet</text>
<text x="522.6" y="470.40" font-size="10.8" fill="#333" font-family="Liberation Sans, sans-serif">ConvNeXt</text>
<text x="522.6" y="485.70" font-size="10.8" fill="#333" font-family="Liberation Sans, sans-serif">CORnet-S</text>
<text x="522.6" y="501.00" font-size="10.8" fill="#333" font-family="Liberation Sans, sans-serif">ViT</text>
<text x="522.6" y="516.30" font-size="10.8" fill="#333" font-family="Liberation Sans, sans-serif">EfficientNet</text>
<text x="522.6" y="531.60" font-size="10.8" fill="#333" font-family="Liberation Sans, sans-serif">ResNet</text>
<line x1="491.4" y1="451.1" x2="514" y2="451.1" stroke="#eba2e4" stroke-width="1.6" stroke-dasharray="7,2.5" stroke-opacity="0.55"/>
<circle cx="502.7" cy="451.1" r="1.82" fill="#eba2e4" fill-opacity="0.55"/>
<line x1="491.4" y1="466.4" x2="514" y2="466.4" stroke="#eb9fe8" stroke-width="2.0" stroke-dasharray="7,4" stroke-opacity="0.55"/>
<path d="M501.1,464.8L504.3,468.0M501.1,468.0L504.3,464.8" stroke="#eb9fe8" stroke-width="0.98" stroke-opacity="0.55"/>
<line x1="491.4" y1="481.7" x2="514" y2="481.7" stroke="#a47ad8" stroke-width="1.92" stroke-dasharray="1.8,2.6" stroke-opacity="0.55"/>
<rect x="501.2" y="480.2" width="3.1" height="3.1" fill="#a47ad8" fill-opacity="0.55"/>
<line x1="491.4" y1="497.0" x2="514" y2="497.0" stroke="#7682d6" stroke-width="1.92" stroke-dasharray="7,2.5,2,2.5" stroke-opacity="0.55"/>
<path d="M500.6,497.0H504.8M502.7,494.9V499.1" stroke="#7682d6" stroke-width="1.05" stroke-opacity="0.55"/>
<line x1="491.4" y1="512.3" x2="514" y2="512.3" stroke="#6a9fde" stroke-width="1.4400000000000002" stroke-dasharray="6,2.5,2,2.5" stroke-opacity="0.55"/>
<circle cx="502.7" cy="512.3" r="1.82" fill="#6a9fde" fill-opacity="0.55"/>
<line x1="491.4" y1="527.6" x2="514" y2="527.6" stroke="#60cde6" stroke-width="1.52" stroke-dasharray="2.5,2.5" stroke-opacity="0.55"/>
<path d="M500.6,527.6H504.8M502.7,525.5V529.7" stroke="#60cde6" stroke-width="1.05" stroke-opacity="0.55"/>
</svg></body></html>
